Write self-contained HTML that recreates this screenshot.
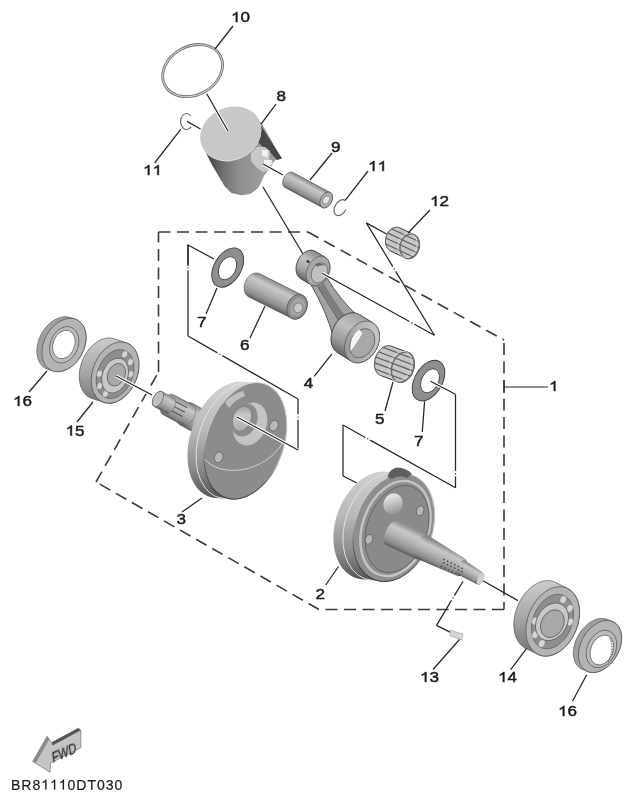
<!DOCTYPE html>
<html><head><meta charset="utf-8"><style>
html,body{margin:0;padding:0;background:#fff;}
svg{display:block;font-family:"Liberation Sans",sans-serif;}
text{will-change:transform;}
</style></head><body>
<svg width="634" height="800" viewBox="0 0 634 800">
<defs><linearGradient id="cylV" x1="0" y1="0" x2="0.25" y2="1"><stop offset="0" stop-color="#8a8a8a"/><stop offset="0.25" stop-color="#c4c4c4"/><stop offset="0.6" stop-color="#aaaaaa"/><stop offset="1" stop-color="#6a6a6a"/></linearGradient><linearGradient id="pinG" x1="0" y1="0" x2="0.3" y2="1"><stop offset="0" stop-color="#7a7a7a"/><stop offset="0.3" stop-color="#b8b8b8"/><stop offset="0.7" stop-color="#a0a0a0"/><stop offset="1" stop-color="#666"/></linearGradient><linearGradient id="pistB" x1="203" y1="0" x2="262" y2="0" gradientUnits="userSpaceOnUse"><stop offset="0" stop-color="#3a3a3a"/><stop offset="0.15" stop-color="#4e4e4e"/><stop offset="0.35" stop-color="#727272"/><stop offset="0.6" stop-color="#8e8e8e"/><stop offset="1" stop-color="#9c9c9c"/></linearGradient><linearGradient id="pg1" x1="311.04" y1="182.52" x2="302.96" y2="197.48" gradientUnits="userSpaceOnUse"><stop offset="0" stop-color="#8a8a8a"/><stop offset="0.25" stop-color="#c8c8c8"/><stop offset="0.55" stop-color="#b0b0b0"/><stop offset="0.85" stop-color="#8a8a8a"/><stop offset="1" stop-color="#5a5a5a"/></linearGradient><clipPath id="nbclip1"><path d="M385.47,240.89 L385.5,240.25 L385.55,239.61 L385.63,238.96 L385.74,238.32 L385.87,237.68 L386.02,237.04 L386.21,236.41 L386.41,235.79 L386.64,235.18 L386.9,234.58 L387.17,234 L387.47,233.43 L387.79,232.88 L388.13,232.34 L388.49,231.83 L388.87,231.33 L389.27,230.86 L389.68,230.41 L390.1,229.99 L390.55,229.59 L391,229.22 L391.46,228.88 L391.94,228.57 L392.42,228.29 L392.92,228.03 L393.41,227.81 L393.92,227.63 L394.42,227.47 L394.93,227.35 L395.44,227.26 L395.95,227.2 L396.46,227.18 L396.96,227.19 L397.46,227.24 L397.95,227.31 L398.44,227.43 L398.91,227.57 L399.38,227.75 L399.83,227.96 L414.33,234.76 L414.77,235 L415.2,235.27 L415.61,235.58 L416.01,235.91 L416.39,236.27 L416.75,236.66 L417.09,237.07 L417.41,237.51 L417.71,237.98 L417.99,238.46 L418.24,238.97 L418.48,239.5 L418.68,240.05 L418.87,240.61 L419.03,241.19 L419.16,241.79 L419.26,242.39 L419.34,243.01 L419.4,243.64 L419.43,244.27 L419.43,244.91 L419.4,245.55 L419.35,246.19 L419.27,246.84 L419.16,247.48 L419.03,248.12 L418.88,248.76 L418.69,249.39 L418.49,250.01 L418.26,250.62 L418,251.22 L417.73,251.8 L417.43,252.37 L417.11,252.92 L416.77,253.46 L416.41,253.97 L416.03,254.47 L415.63,254.94 L415.22,255.39 L414.8,255.81 L414.35,256.21 L413.9,256.58 L413.44,256.92 L412.96,257.23 L412.48,257.51 L411.98,257.77 L411.49,257.99 L410.98,258.17 L410.48,258.33 L409.97,258.45 L409.46,258.54 L408.95,258.6 L408.44,258.62 L407.94,258.61 L407.44,258.56 L406.95,258.49 L406.46,258.37 L405.99,258.23 L405.52,258.05 L405.07,257.84 L390.57,251.04 L390.13,250.8 L389.7,250.53 L389.29,250.22 L388.89,249.89 L388.51,249.53 L388.15,249.14 L387.81,248.73 L387.49,248.29 L387.19,247.82 L386.91,247.34 L386.66,246.83 L386.42,246.3 L386.22,245.75 L386.03,245.19 L385.87,244.61 L385.74,244.01 L385.64,243.41 L385.56,242.79 L385.5,242.16 L385.47,241.53 Z"/></clipPath><linearGradient id="pg2" x1="281.61" y1="284.5" x2="270.39" y2="307.5" gradientUnits="userSpaceOnUse"><stop offset="0" stop-color="#8a8a8a"/><stop offset="0.25" stop-color="#c8c8c8"/><stop offset="0.55" stop-color="#b0b0b0"/><stop offset="0.85" stop-color="#8a8a8a"/><stop offset="1" stop-color="#5a5a5a"/></linearGradient><linearGradient id="pg3" x1="319.51" y1="253.87" x2="304.49" y2="282.13" gradientUnits="userSpaceOnUse"><stop offset="0" stop-color="#8a8a8a"/><stop offset="0.35" stop-color="#c4c4c4"/><stop offset="0.7" stop-color="#a0a0a0"/><stop offset="1" stop-color="#5a5a5a"/></linearGradient><linearGradient id="pg4" x1="366.27" y1="316.81" x2="343.73" y2="359.19" gradientUnits="userSpaceOnUse"><stop offset="0" stop-color="#a0a0a0"/><stop offset="0.35" stop-color="#c0c0c0"/><stop offset="0.7" stop-color="#9a9a9a"/><stop offset="1" stop-color="#5a5a5a"/></linearGradient><linearGradient id="befc" x1="1" y1="0" x2="0" y2="1"><stop offset="0" stop-color="#d0d0d0"/><stop offset="0.5" stop-color="#b4b4b4"/><stop offset="1" stop-color="#8a8a8a"/></linearGradient><clipPath id="nbclip2"><path d="M374.47,364.28 L374.49,363.51 L374.53,362.72 L374.61,361.94 L374.72,361.14 L374.86,360.35 L375.03,359.56 L375.23,358.77 L375.46,357.99 L375.71,357.21 L376,356.45 L376.31,355.69 L376.65,354.96 L377.01,354.23 L377.4,353.53 L377.81,352.84 L378.25,352.18 L378.7,351.54 L379.18,350.92 L379.67,350.34 L380.18,349.78 L380.7,349.25 L381.24,348.75 L381.8,348.29 L382.36,347.86 L382.93,347.46 L383.52,347.11 L384.1,346.79 L384.7,346.51 L385.29,346.26 L385.89,346.06 L386.49,345.9 L387.09,345.78 L387.68,345.7 L388.27,345.66 L388.85,345.66 L389.42,345.71 L389.99,345.79 L390.54,345.92 L391.08,346.09 L408.08,352.49 L408.61,352.69 L409.12,352.94 L409.61,353.23 L410.09,353.55 L410.54,353.92 L410.98,354.31 L411.39,354.75 L411.78,355.22 L412.14,355.72 L412.48,356.25 L412.79,356.81 L413.08,357.4 L413.34,358.02 L413.57,358.67 L413.77,359.33 L413.94,360.02 L414.08,360.73 L414.19,361.45 L414.27,362.19 L414.31,362.95 L414.33,363.72 L414.31,364.49 L414.27,365.28 L414.19,366.06 L414.08,366.86 L413.94,367.65 L413.77,368.44 L413.57,369.23 L413.34,370.01 L413.09,370.79 L412.8,371.55 L412.49,372.31 L412.15,373.04 L411.79,373.77 L411.4,374.47 L410.99,375.16 L410.55,375.82 L410.1,376.46 L409.62,377.08 L409.13,377.66 L408.62,378.22 L408.1,378.75 L407.56,379.25 L407,379.71 L406.44,380.14 L405.87,380.54 L405.28,380.89 L404.7,381.21 L404.1,381.49 L403.51,381.74 L402.91,381.94 L402.31,382.1 L401.71,382.22 L401.12,382.3 L400.53,382.34 L399.95,382.34 L399.38,382.29 L398.81,382.21 L398.26,382.08 L397.72,381.91 L380.72,375.51 L380.19,375.31 L379.68,375.06 L379.19,374.77 L378.71,374.45 L378.26,374.08 L377.82,373.69 L377.41,373.25 L377.02,372.78 L376.66,372.28 L376.32,371.75 L376.01,371.19 L375.72,370.6 L375.46,369.98 L375.23,369.33 L375.03,368.67 L374.86,367.98 L374.72,367.27 L374.61,366.55 L374.53,365.81 L374.49,365.05 Z"/></clipPath><linearGradient id="rim15" x1="0" y1="335" x2="0" y2="408" gradientUnits="userSpaceOnUse"><stop offset="0" stop-color="#cfcfcf"/><stop offset="0.5" stop-color="#a8a8a8"/><stop offset="1" stop-color="#6e6e6e"/></linearGradient><linearGradient id="pg5" x1="205.87" y1="410.96" x2="194.13" y2="433.04" gradientUnits="userSpaceOnUse"><stop offset="0" stop-color="#8a8a8a"/><stop offset="0.25" stop-color="#c8c8c8"/><stop offset="0.55" stop-color="#b0b0b0"/><stop offset="0.85" stop-color="#8a8a8a"/><stop offset="1" stop-color="#5a5a5a"/></linearGradient><linearGradient id="pg6" x1="183.31" y1="400.02" x2="172.69" y2="419.98" gradientUnits="userSpaceOnUse"><stop offset="0" stop-color="#8a8a8a"/><stop offset="0.25" stop-color="#c8c8c8"/><stop offset="0.55" stop-color="#b0b0b0"/><stop offset="0.85" stop-color="#8a8a8a"/><stop offset="1" stop-color="#5a5a5a"/></linearGradient><linearGradient id="pg7" x1="167.94" y1="394.58" x2="160.06" y2="409.42" gradientUnits="userSpaceOnUse"><stop offset="0" stop-color="#8a8a8a"/><stop offset="0.25" stop-color="#c8c8c8"/><stop offset="0.55" stop-color="#b0b0b0"/><stop offset="0.85" stop-color="#8a8a8a"/><stop offset="1" stop-color="#5a5a5a"/></linearGradient><linearGradient id="rim3" x1="0" y1="383" x2="0" y2="503" gradientUnits="userSpaceOnUse"><stop offset="0" stop-color="#d2d2d2"/><stop offset="0.4" stop-color="#b8b8b8"/><stop offset="0.72" stop-color="#8a8a8a"/><stop offset="1" stop-color="#4a4a4a"/></linearGradient><linearGradient id="fe3" x1="0" y1="383" x2="0" y2="503" gradientUnits="userSpaceOnUse"><stop offset="0" stop-color="#d8d8d8"/><stop offset="0.55" stop-color="#c0c0c0"/><stop offset="0.8" stop-color="#5a5a5a"/><stop offset="1" stop-color="#3a3a3a"/></linearGradient><linearGradient id="bore3" x1="0" y1="0" x2="0.3" y2="1"><stop offset="0" stop-color="#909090"/><stop offset="0.45" stop-color="#c8c8c8"/><stop offset="1" stop-color="#b0b0b0"/></linearGradient><linearGradient id="rim2" x1="0" y1="470" x2="0" y2="585" gradientUnits="userSpaceOnUse"><stop offset="0" stop-color="#d2d2d2"/><stop offset="0.4" stop-color="#b8b8b8"/><stop offset="0.72" stop-color="#8a8a8a"/><stop offset="1" stop-color="#4a4a4a"/></linearGradient><linearGradient id="fe2" x1="0" y1="471" x2="0" y2="584" gradientUnits="userSpaceOnUse"><stop offset="0" stop-color="#d8d8d8"/><stop offset="0.55" stop-color="#c0c0c0"/><stop offset="0.8" stop-color="#5a5a5a"/><stop offset="1" stop-color="#3a3a3a"/></linearGradient><linearGradient id="boss2" x1="0.3" y1="0.2" x2="0.8" y2="1"><stop offset="0" stop-color="#e0e0e0"/><stop offset="1" stop-color="#8a8a8a"/></linearGradient><linearGradient id="pg8" x1="412.71" y1="527.76" x2="401.29" y2="552.24" gradientUnits="userSpaceOnUse"><stop offset="0" stop-color="#8a8a8a"/><stop offset="0.25" stop-color="#c8c8c8"/><stop offset="0.55" stop-color="#b0b0b0"/><stop offset="0.85" stop-color="#8a8a8a"/><stop offset="1" stop-color="#5a5a5a"/></linearGradient><linearGradient id="pg9" x1="446.04" y1="546.66" x2="435.96" y2="567.34" gradientUnits="userSpaceOnUse"><stop offset="0" stop-color="#8a8a8a"/><stop offset="0.25" stop-color="#c8c8c8"/><stop offset="0.55" stop-color="#b0b0b0"/><stop offset="0.85" stop-color="#8a8a8a"/><stop offset="1" stop-color="#5a5a5a"/></linearGradient><linearGradient id="pg10" x1="474.52" y1="566.38" x2="467.48" y2="579.62" gradientUnits="userSpaceOnUse"><stop offset="0" stop-color="#8a8a8a"/><stop offset="0.25" stop-color="#c8c8c8"/><stop offset="0.55" stop-color="#b0b0b0"/><stop offset="0.85" stop-color="#8a8a8a"/><stop offset="1" stop-color="#5a5a5a"/></linearGradient><linearGradient id="rim14" x1="0" y1="578" x2="0" y2="656" gradientUnits="userSpaceOnUse"><stop offset="0" stop-color="#cfcfcf"/><stop offset="0.5" stop-color="#a8a8a8"/><stop offset="1" stop-color="#6e6e6e"/></linearGradient></defs>
<rect width="634" height="800" fill="#fff"/>
<polyline points="158.5,232 308,232" fill="none" stroke="#3a3a3a" stroke-width="1.6" stroke-dasharray="12 6.5"/>
<polyline points="308,232 504,340" fill="none" stroke="#3a3a3a" stroke-width="1.6" stroke-dasharray="12 6.5"/>
<polyline points="504,343 504,609.5" fill="none" stroke="#3a3a3a" stroke-width="1.6" stroke-dasharray="12 6.5"/>
<polyline points="504,609.5 319,609.5" fill="none" stroke="#3a3a3a" stroke-width="1.6" stroke-dasharray="12 6.5"/>
<polyline points="319,609.5 96,482" fill="none" stroke="#3a3a3a" stroke-width="1.6" stroke-dasharray="12 6.5"/>
<polyline points="96,482 158.5,372" fill="none" stroke="#3a3a3a" stroke-width="1.6" stroke-dasharray="12 6.5"/>
<polyline points="158.5,372 158.5,232" fill="none" stroke="#3a3a3a" stroke-width="1.6" stroke-dasharray="12 6.5"/>
<polyline points="504,381 504,393" fill="none" stroke="#3a3a3a" stroke-width="1.6"/>
<polyline points="504,387 548,387" fill="none" stroke="#262626" stroke-width="1.0"/>
<path d="M0.372,0 L0.284,0 L0.284,-0.560 Q0.252,-0.530 0.200,-0.500 Q0.148,-0.469 0.107,-0.454 L0.107,-0.539 Q0.180,-0.573 0.235,-0.622 Q0.290,-0.670 0.313,-0.716 L0.372,-0.716 Z" transform="translate(549,391) scale(17.08,14)" fill="#1a1a1a" stroke="#1a1a1a" stroke-width="0.03"/>
<ellipse cx="192.6" cy="70.6" rx="31.4" ry="24.3" transform="rotate(-28.3 192.6 70.6)" fill="none" stroke="#707070" stroke-width="2.8"/>
<ellipse cx="192.6" cy="70.6" rx="31.4" ry="24.3" transform="rotate(-28.3 192.6 70.6)" fill="none" stroke="#d4d4d4" stroke-width="1.0"/>
<polyline points="233,26 215,49" fill="none" stroke="#262626" stroke-width="1.25"/>
<path d="M0.372,0 L0.284,0 L0.284,-0.560 Q0.252,-0.530 0.200,-0.500 Q0.148,-0.469 0.107,-0.454 L0.107,-0.539 Q0.180,-0.573 0.235,-0.622 Q0.290,-0.670 0.313,-0.716 L0.372,-0.716 Z" transform="translate(231,22) scale(17.08,14)" fill="#1a1a1a" stroke="#1a1a1a" stroke-width="0.03"/>
<text transform="translate(240.5,22) scale(1.22,1)" font-size="14" font-weight="normal" fill="#1a1a1a" stroke="#1a1a1a" stroke-width="0.45">0</text>
<path d="M201.5,144 L212,165 L224.8,186.4 L231.4,193 L241.4,195.2 L250.2,194.1 L256.3,189.7 L259.4,186 L264.1,175.7 L268.9,169.4 L275.2,159.9 L281.5,158.4 L261,122 Z" fill="url(#pistB)"/>
<path d="M258,121 L282,158.4 L277,160 L270,152 L262,146 L256,140 Z" fill="#484848"/>
<path d="M251,153 L257,147 L265,147 L270,151 L269,159 L273,162 L271,170 L263,172 L257,168 L251,161 Z" fill="#c8c8c8"/>
<path d="M262,150 L268,150 L268,157 L262,156 Z" fill="#f0f0f0"/>
<path d="M264,160 L272,160 L271,165 L264,164 Z" fill="#f4f4f4"/>
<ellipse cx="230.8" cy="134.4" rx="31.4" ry="26" transform="rotate(-24.6 230.8 134.4)" fill="#e0e0e0"/>
<ellipse cx="230.8" cy="133.4" rx="31.4" ry="26" transform="rotate(-24.6 230.8 133.4)" fill="#c8c8c8"/>
<polyline points="261,124 276,104" fill="none" stroke="#262626" stroke-width="1.25"/>
<polyline points="206.7,93.7 228,131" fill="none" stroke="#fff" stroke-width="3.45"/>
<polyline points="206.7,93.7 228,131" fill="none" stroke="#262626" stroke-width="1.25"/>
<text transform="translate(276.5,101.2) scale(1.22,1)" font-size="14" font-weight="normal" fill="#1a1a1a" stroke="#1a1a1a" stroke-width="0.45">8</text>
<path d="M190.8,115.8 A6,8 0 1 0 191.1,126.8" fill="none" stroke="#666" stroke-width="1.2"/>
<polyline points="187,121.4 200.5,129" fill="none" stroke="#262626" stroke-width="1.25"/>
<polyline points="180.7,129.3 154.6,163" fill="none" stroke="#262626" stroke-width="1.25"/>
<path d="M0.372,0 L0.284,0 L0.284,-0.560 Q0.252,-0.530 0.200,-0.500 Q0.148,-0.469 0.107,-0.454 L0.107,-0.539 Q0.180,-0.573 0.235,-0.622 Q0.290,-0.670 0.313,-0.716 L0.372,-0.716 Z" transform="translate(143,175) scale(17.08,14)" fill="#1a1a1a" stroke="#1a1a1a" stroke-width="0.03"/>
<path d="M0.372,0 L0.284,0 L0.284,-0.560 Q0.252,-0.530 0.200,-0.500 Q0.148,-0.469 0.107,-0.454 L0.107,-0.539 Q0.180,-0.573 0.235,-0.622 Q0.290,-0.670 0.313,-0.716 L0.372,-0.716 Z" transform="translate(152.5,175) scale(17.08,14)" fill="#1a1a1a" stroke="#1a1a1a" stroke-width="0.03"/>
<path d="M282.68,182.66 L282.69,182.27 L282.72,181.87 L282.77,181.46 L282.83,181.05 L282.92,180.64 L283.01,180.23 L283.13,179.81 L283.26,179.4 L283.41,178.98 L283.57,178.57 L283.74,178.17 L283.94,177.77 L284.14,177.37 L284.36,176.98 L284.59,176.61 L284.83,176.23 L285.09,175.88 L285.35,175.53 L285.63,175.19 L285.91,174.87 L286.2,174.56 L286.51,174.26 L286.81,173.99 L287.13,173.72 L287.44,173.48 L287.77,173.25 L288.09,173.04 L288.42,172.85 L288.75,172.69 L289.08,172.54 L289.41,172.41 L289.74,172.3 L290.07,172.21 L290.4,172.14 L290.72,172.1 L291.03,172.08 L291.34,172.08 L291.65,172.1 L291.94,172.14 L292.23,172.2 L292.51,172.29 L292.78,172.4 L293.04,172.52 L330.24,192.52 L330.49,192.67 L330.73,192.84 L330.95,193.03 L331.16,193.23 L331.36,193.46 L331.55,193.7 L331.72,193.96 L331.87,194.24 L332.01,194.53 L332.13,194.84 L332.24,195.16 L332.33,195.5 L332.4,195.84 L332.46,196.2 L332.5,196.57 L332.52,196.95 L332.52,197.34 L332.51,197.73 L332.48,198.13 L332.43,198.54 L332.37,198.95 L332.28,199.36 L332.19,199.77 L332.07,200.19 L331.94,200.6 L331.79,201.02 L331.63,201.43 L331.46,201.83 L331.26,202.23 L331.06,202.63 L330.84,203.02 L330.61,203.39 L330.37,203.77 L330.11,204.12 L329.85,204.47 L329.57,204.81 L329.29,205.13 L329,205.44 L328.69,205.74 L328.39,206.01 L328.07,206.28 L327.76,206.52 L327.43,206.75 L327.11,206.96 L326.78,207.15 L326.45,207.31 L326.12,207.46 L325.79,207.59 L325.46,207.7 L325.13,207.79 L324.8,207.86 L324.48,207.9 L324.17,207.92 L323.86,207.92 L323.55,207.9 L323.26,207.86 L322.97,207.8 L322.69,207.71 L322.42,207.6 L322.16,207.48 L284.96,187.48 L284.71,187.33 L284.47,187.16 L284.25,186.97 L284.04,186.77 L283.84,186.54 L283.65,186.3 L283.48,186.04 L283.33,185.76 L283.19,185.47 L283.07,185.16 L282.96,184.84 L282.87,184.5 L282.8,184.16 L282.74,183.8 L282.7,183.43 L282.68,183.05 Z" fill="url(#pg1)" stroke="#444" stroke-width="0.6"/>
<ellipse cx="326.2" cy="200" rx="5.53" ry="8.5" transform="rotate(28.4 326.2 200)" fill="#b0b0b0" stroke="#444" stroke-width="0.6"/>
<ellipse cx="326.2" cy="200" rx="3" ry="4.5" transform="rotate(28.4 326.2 200)" fill="#e4e4e4" stroke="#666" stroke-width="0.6"/>
<polyline points="263,164 283,175" fill="none" stroke="#fff" stroke-width="3.45"/>
<polyline points="263,164 283,175" fill="none" stroke="#262626" stroke-width="1.25"/>
<polyline points="332,153 310,180" fill="none" stroke="#262626" stroke-width="1.25"/>
<text transform="translate(331,152) scale(1.22,1)" font-size="14" font-weight="normal" fill="#1a1a1a" stroke="#1a1a1a" stroke-width="0.45">9</text>
<path d="M345.2,200.4 A5.6,8.6 30 1 0 345.9,209.4" fill="none" stroke="#666" stroke-width="1.2"/>
<polyline points="345.2,200.4 368,171" fill="none" stroke="#262626" stroke-width="1.25"/>
<path d="M0.372,0 L0.284,0 L0.284,-0.560 Q0.252,-0.530 0.200,-0.500 Q0.148,-0.469 0.107,-0.454 L0.107,-0.539 Q0.180,-0.573 0.235,-0.622 Q0.290,-0.670 0.313,-0.716 L0.372,-0.716 Z" transform="translate(368,171) scale(17.08,14)" fill="#1a1a1a" stroke="#1a1a1a" stroke-width="0.03"/>
<path d="M0.372,0 L0.284,0 L0.284,-0.560 Q0.252,-0.530 0.200,-0.500 Q0.148,-0.469 0.107,-0.454 L0.107,-0.539 Q0.180,-0.573 0.235,-0.622 Q0.290,-0.670 0.313,-0.716 L0.372,-0.716 Z" transform="translate(377.5,171) scale(17.08,14)" fill="#1a1a1a" stroke="#1a1a1a" stroke-width="0.03"/>
<polyline points="263,187 303,254" fill="none" stroke="#262626" stroke-width="1.25"/>
<path d="M385.47,240.89 L385.5,240.25 L385.55,239.61 L385.63,238.96 L385.74,238.32 L385.87,237.68 L386.02,237.04 L386.21,236.41 L386.41,235.79 L386.64,235.18 L386.9,234.58 L387.17,234 L387.47,233.43 L387.79,232.88 L388.13,232.34 L388.49,231.83 L388.87,231.33 L389.27,230.86 L389.68,230.41 L390.1,229.99 L390.55,229.59 L391,229.22 L391.46,228.88 L391.94,228.57 L392.42,228.29 L392.92,228.03 L393.41,227.81 L393.92,227.63 L394.42,227.47 L394.93,227.35 L395.44,227.26 L395.95,227.2 L396.46,227.18 L396.96,227.19 L397.46,227.24 L397.95,227.31 L398.44,227.43 L398.91,227.57 L399.38,227.75 L399.83,227.96 L414.33,234.76 L414.77,235 L415.2,235.27 L415.61,235.58 L416.01,235.91 L416.39,236.27 L416.75,236.66 L417.09,237.07 L417.41,237.51 L417.71,237.98 L417.99,238.46 L418.24,238.97 L418.48,239.5 L418.68,240.05 L418.87,240.61 L419.03,241.19 L419.16,241.79 L419.26,242.39 L419.34,243.01 L419.4,243.64 L419.43,244.27 L419.43,244.91 L419.4,245.55 L419.35,246.19 L419.27,246.84 L419.16,247.48 L419.03,248.12 L418.88,248.76 L418.69,249.39 L418.49,250.01 L418.26,250.62 L418,251.22 L417.73,251.8 L417.43,252.37 L417.11,252.92 L416.77,253.46 L416.41,253.97 L416.03,254.47 L415.63,254.94 L415.22,255.39 L414.8,255.81 L414.35,256.21 L413.9,256.58 L413.44,256.92 L412.96,257.23 L412.48,257.51 L411.98,257.77 L411.49,257.99 L410.98,258.17 L410.48,258.33 L409.97,258.45 L409.46,258.54 L408.95,258.6 L408.44,258.62 L407.94,258.61 L407.44,258.56 L406.95,258.49 L406.46,258.37 L405.99,258.23 L405.52,258.05 L405.07,257.84 L390.57,251.04 L390.13,250.8 L389.7,250.53 L389.29,250.22 L388.89,249.89 L388.51,249.53 L388.15,249.14 L387.81,248.73 L387.49,248.29 L387.19,247.82 L386.91,247.34 L386.66,246.83 L386.42,246.3 L386.22,245.75 L386.03,245.19 L385.87,244.61 L385.74,244.01 L385.64,243.41 L385.56,242.79 L385.5,242.16 L385.47,241.53 Z" fill="#c6c6c6" stroke="#3a3a3a" stroke-width="1"/>
<g clip-path="url(#nbclip1)">
<line x1="418.66" y1="265.46" x2="374.74" y2="244.86" stroke="#606060" stroke-width="1.2"/>
<line x1="420.96" y1="260.56" x2="377.04" y2="239.96" stroke="#606060" stroke-width="1.2"/>
<line x1="423.26" y1="255.65" x2="379.34" y2="235.05" stroke="#606060" stroke-width="1.2"/>
<line x1="425.56" y1="250.75" x2="381.64" y2="230.15" stroke="#606060" stroke-width="1.2"/>
<line x1="427.86" y1="245.84" x2="383.94" y2="225.24" stroke="#606060" stroke-width="1.2"/>
<line x1="430.16" y1="240.94" x2="386.24" y2="220.34" stroke="#606060" stroke-width="1.2"/>
</g>
<ellipse cx="409.7" cy="246.3" rx="9.5" ry="12.5" transform="rotate(15 409.7 246.3)" fill="none" stroke="#6a6a6a" stroke-width="1.4"/>
<ellipse cx="407.52" cy="245.28" rx="9.5" ry="12.5" transform="rotate(15 407.52 245.28)" fill="none" stroke="#e0e0e0" stroke-width="0.6"/>
<polyline points="408,233 430,210" fill="none" stroke="#262626" stroke-width="1.25"/>
<path d="M0.372,0 L0.284,0 L0.284,-0.560 Q0.252,-0.530 0.200,-0.500 Q0.148,-0.469 0.107,-0.454 L0.107,-0.539 Q0.180,-0.573 0.235,-0.622 Q0.290,-0.670 0.313,-0.716 L0.372,-0.716 Z" transform="translate(430,206) scale(17.08,14)" fill="#1a1a1a" stroke="#1a1a1a" stroke-width="0.03"/>
<text transform="translate(439.5,206) scale(1.22,1)" font-size="14" font-weight="normal" fill="#1a1a1a" stroke="#1a1a1a" stroke-width="0.45">2</text>
<polyline points="386.5,234 366.3,222.9" fill="none" stroke="#262626" stroke-width="1.25"/>
<ellipse cx="227.7" cy="267.6" rx="13.5" ry="21.4" transform="rotate(30.8 227.7 267.6)" fill="#8e8e8e" stroke="#3a3a3a" stroke-width="0.9"/>
<ellipse cx="227.5" cy="268.2" rx="8.2" ry="12.3" transform="rotate(27 227.5 268.2)" fill="#fff" stroke="#3a3a3a" stroke-width="0.8"/>
<polyline points="214,259 188,245 188,266" fill="none" stroke="#262626" stroke-width="1.25"/>
<line x1="188" y1="245" x2="188" y2="264.95" stroke="#262626" stroke-width="1.25" stroke-linecap="butt"/>
<line x1="188" y1="267.15" x2="188" y2="268.35" stroke="#262626" stroke-width="1.25" stroke-linecap="butt"/>
<line x1="188" y1="270.55" x2="188" y2="336" stroke="#262626" stroke-width="1.25" stroke-linecap="butt"/>
<line x1="188" y1="336" x2="217.47" y2="352.88" stroke="#262626" stroke-width="1.25" stroke-linecap="butt"/>
<line x1="219.38" y1="353.97" x2="220.42" y2="354.57" stroke="#262626" stroke-width="1.25" stroke-linecap="butt"/>
<line x1="222.33" y1="355.66" x2="298" y2="399" stroke="#262626" stroke-width="1.25" stroke-linecap="butt"/>
<line x1="298" y1="399" x2="298" y2="414.2" stroke="#262626" stroke-width="1.25" stroke-linecap="butt"/>
<line x1="298" y1="416.4" x2="298" y2="417.6" stroke="#262626" stroke-width="1.25" stroke-linecap="butt"/>
<line x1="298" y1="419.8" x2="298" y2="450" stroke="#262626" stroke-width="1.25" stroke-linecap="butt"/>
<polyline points="217,288 206,314" fill="none" stroke="#262626" stroke-width="1.25"/>
<text transform="translate(197,327) scale(1.22,1)" font-size="14" font-weight="normal" fill="#1a1a1a" stroke="#1a1a1a" stroke-width="0.45">7</text>
<path d="M244.14,288 L244.15,287.36 L244.19,286.72 L244.25,286.07 L244.34,285.43 L244.46,284.78 L244.6,284.13 L244.77,283.49 L244.97,282.85 L245.2,282.22 L245.45,281.6 L245.72,280.99 L246.02,280.39 L246.34,279.8 L246.68,279.23 L247.04,278.68 L247.43,278.14 L247.83,277.63 L248.25,277.14 L248.69,276.66 L249.15,276.22 L249.61,275.79 L250.1,275.4 L250.59,275.03 L251.09,274.69 L251.6,274.38 L252.12,274.1 L252.65,273.85 L253.18,273.63 L253.72,273.45 L254.25,273.3 L254.79,273.18 L255.33,273.09 L255.86,273.04 L256.39,273.02 L256.91,273.04 L257.43,273.08 L257.94,273.17 L258.44,273.28 L258.93,273.43 L259.4,273.62 L259.86,273.83 L302.56,295.23 L303.01,295.48 L303.44,295.76 L303.85,296.07 L304.25,296.4 L304.62,296.77 L304.98,297.16 L305.31,297.58 L305.62,298.03 L305.91,298.5 L306.17,298.99 L306.41,299.5 L306.62,300.04 L306.81,300.59 L306.97,301.16 L307.1,301.74 L307.21,302.34 L307.28,302.95 L307.33,303.57 L307.36,304.2 L307.35,304.84 L307.31,305.48 L307.25,306.13 L307.16,306.77 L307.04,307.42 L306.9,308.07 L306.73,308.71 L306.53,309.35 L306.3,309.98 L306.05,310.6 L305.78,311.21 L305.48,311.81 L305.16,312.4 L304.82,312.97 L304.46,313.52 L304.07,314.06 L303.67,314.57 L303.25,315.06 L302.81,315.54 L302.35,315.98 L301.89,316.41 L301.4,316.8 L300.91,317.17 L300.41,317.51 L299.9,317.82 L299.38,318.1 L298.85,318.35 L298.32,318.57 L297.78,318.75 L297.25,318.9 L296.71,319.02 L296.17,319.11 L295.64,319.16 L295.11,319.18 L294.59,319.16 L294.07,319.12 L293.56,319.03 L293.06,318.92 L292.57,318.77 L292.1,318.58 L291.64,318.37 L248.94,296.97 L248.49,296.72 L248.06,296.44 L247.65,296.13 L247.25,295.8 L246.88,295.43 L246.52,295.04 L246.19,294.62 L245.88,294.17 L245.59,293.7 L245.33,293.21 L245.09,292.7 L244.88,292.16 L244.69,291.61 L244.53,291.04 L244.4,290.46 L244.29,289.86 L244.22,289.25 L244.17,288.63 Z" fill="url(#pg2)" stroke="#444" stroke-width="0.6"/>
<ellipse cx="297.1" cy="306.8" rx="9.73" ry="12.8" transform="rotate(23 297.1 306.8)" fill="#8e8e8e" stroke="#444" stroke-width="0.6"/>
<ellipse cx="297.6" cy="307.2" rx="7" ry="9.5" transform="rotate(23 297.6 307.2)" fill="#a4a4a4"/>
<ellipse cx="298.2" cy="307.8" rx="4.5" ry="5" transform="rotate(23 298.2 307.8)" fill="#c8c8c8" stroke="#666" stroke-width="0.6"/>
<polyline points="265,306 250,338" fill="none" stroke="#262626" stroke-width="1.25"/>
<text transform="translate(240,350) scale(1.22,1)" font-size="14" font-weight="normal" fill="#1a1a1a" stroke="#1a1a1a" stroke-width="0.45">6</text>
<path d="M311,285 L326.5,277 Q340,300 358,316 L334,339 Q326,310 311,285 Z" fill="#a2a2a2" stroke="#3a3a3a" stroke-width="0.8"/>
<path d="M318,287 L324,283.5 Q335,303 347,318 L341,324 Q331,304 318,287 Z" fill="#7e7e7e"/>
<polyline points="318,287 341,324" fill="none" stroke="#444" stroke-width="0.8"/>
<path d="M296.07,268.75 L296.09,268 L296.14,267.24 L296.23,266.47 L296.35,265.69 L296.49,264.92 L296.67,264.15 L296.89,263.37 L297.13,262.61 L297.4,261.85 L297.7,261.09 L298.03,260.35 L298.39,259.62 L298.77,258.91 L299.18,258.21 L299.61,257.53 L300.07,256.87 L300.54,256.24 L301.04,255.63 L301.56,255.04 L302.09,254.48 L302.64,253.95 L303.21,253.45 L303.78,252.98 L304.37,252.55 L304.97,252.15 L305.58,251.78 L306.2,251.45 L306.82,251.16 L307.44,250.9 L308.06,250.69 L308.69,250.51 L309.31,250.37 L309.93,250.28 L310.54,250.22 L311.15,250.2 L311.75,250.23 L312.33,250.29 L312.91,250.4 L313.47,250.54 L314.02,250.73 L314.55,250.95 L315.06,251.21 L325.06,257.21 L325.56,257.52 L326.03,257.85 L326.48,258.23 L326.91,258.63 L327.31,259.08 L327.69,259.55 L328.04,260.06 L328.36,260.59 L328.66,261.16 L328.92,261.75 L329.16,262.37 L329.36,263.01 L329.54,263.67 L329.68,264.35 L329.79,265.05 L329.87,265.77 L329.92,266.5 L329.93,267.25 L329.91,268 L329.86,268.76 L329.77,269.53 L329.65,270.31 L329.51,271.08 L329.33,271.85 L329.11,272.63 L328.87,273.39 L328.6,274.15 L328.3,274.91 L327.97,275.65 L327.61,276.38 L327.23,277.09 L326.82,277.79 L326.39,278.47 L325.93,279.13 L325.46,279.76 L324.96,280.37 L324.44,280.96 L323.91,281.52 L323.36,282.05 L322.79,282.55 L322.22,283.02 L321.63,283.45 L321.03,283.85 L320.42,284.22 L319.8,284.55 L319.18,284.84 L318.56,285.1 L317.94,285.31 L317.31,285.49 L316.69,285.63 L316.07,285.72 L315.46,285.78 L314.85,285.8 L314.25,285.77 L313.67,285.71 L313.09,285.6 L312.53,285.46 L311.98,285.27 L311.45,285.05 L310.94,284.79 L300.94,278.79 L300.44,278.48 L299.97,278.15 L299.52,277.77 L299.09,277.37 L298.69,276.92 L298.31,276.45 L297.96,275.94 L297.64,275.41 L297.34,274.84 L297.08,274.25 L296.84,273.63 L296.64,272.99 L296.46,272.33 L296.32,271.65 L296.21,270.95 L296.13,270.23 L296.08,269.5 Z" fill="url(#pg3)" stroke="#333" stroke-width="0.9"/>
<ellipse cx="318" cy="271" rx="11" ry="15.5" transform="rotate(25 318 271)" fill="#a8a8a8" stroke="#555" stroke-width="0.6"/>
<ellipse cx="319.5" cy="272.9" rx="7.8" ry="10.5" transform="rotate(25 319.5 272.9)" fill="#c0c0c0" stroke="#555" stroke-width="0.6"/>
<path d="M315,264.5 Q320,261 326,266 Q323,264.5 317,266.5 Z" fill="#6a6a6a"/>
<ellipse cx="308" cy="261.5" rx="1.8" ry="1.3" transform="rotate(30 308 261.5)" fill="#3a3a3a"/>
<path d="M331,338.94 L331.03,337.88 L331.1,336.81 L331.22,335.73 L331.39,334.64 L331.61,333.55 L331.87,332.46 L332.18,331.37 L332.53,330.29 L332.93,329.22 L333.37,328.16 L333.85,327.12 L334.37,326.09 L334.93,325.08 L335.53,324.1 L336.16,323.14 L336.83,322.21 L337.53,321.32 L338.26,320.45 L339.01,319.63 L339.8,318.84 L340.6,318.09 L341.43,317.38 L342.28,316.72 L343.14,316.11 L344.02,315.54 L344.91,315.02 L345.81,314.55 L346.72,314.14 L347.64,313.78 L348.55,313.47 L349.47,313.22 L350.38,313.02 L351.29,312.88 L352.19,312.8 L353.08,312.77 L353.96,312.8 L354.82,312.89 L355.67,313.04 L356.49,313.24 L357.3,313.5 L358.07,313.81 L358.83,314.18 L359.55,314.59 L373.05,322.99 L373.75,323.47 L374.41,323.99 L375.04,324.56 L375.63,325.18 L376.19,325.85 L376.71,326.56 L377.18,327.31 L377.62,328.1 L378.01,328.93 L378.36,329.8 L378.66,330.7 L378.92,331.63 L379.13,332.59 L379.29,333.58 L379.41,334.58 L379.48,335.61 L379.5,336.66 L379.47,337.72 L379.4,338.79 L379.28,339.87 L379.11,340.96 L378.89,342.05 L378.63,343.14 L378.32,344.23 L377.97,345.31 L377.57,346.38 L377.13,347.44 L376.65,348.48 L376.13,349.51 L375.57,350.52 L374.97,351.5 L374.34,352.46 L373.67,353.39 L372.97,354.28 L372.24,355.15 L371.49,355.97 L370.7,356.76 L369.9,357.51 L369.07,358.22 L368.22,358.88 L367.36,359.49 L366.48,360.06 L365.59,360.58 L364.69,361.05 L363.78,361.46 L362.86,361.82 L361.95,362.13 L361.03,362.38 L360.12,362.58 L359.21,362.72 L358.31,362.8 L357.42,362.83 L356.54,362.8 L355.68,362.71 L354.83,362.56 L354.01,362.36 L353.2,362.1 L352.43,361.79 L351.67,361.42 L350.95,361.01 L337.45,352.61 L336.75,352.13 L336.09,351.61 L335.46,351.04 L334.87,350.42 L334.31,349.75 L333.79,349.04 L333.32,348.29 L332.88,347.5 L332.49,346.67 L332.14,345.8 L331.84,344.9 L331.58,343.97 L331.37,343.01 L331.21,342.02 L331.09,341.02 L331.02,339.99 Z" fill="url(#pg4)" stroke="#333" stroke-width="0.9"/>
<ellipse cx="362" cy="342" rx="16" ry="22" transform="rotate(28 362 342)" fill="url(#befc)" stroke="#555" stroke-width="0.6"/>
<ellipse cx="362.2" cy="343.2" rx="11.5" ry="15.5" transform="rotate(30 362.2 343.2)" fill="#a8a8a8" stroke="#555" stroke-width="0.7"/>
<path d="M359,329.5 Q349,337 350.5,351 Q355,346 362.5,333 Z" fill="#f4f4f4"/>
<polyline points="322,273.2 334,279.8" fill="none" stroke="#fff" stroke-width="3.4"/>
<line x1="366.3" y1="222.9" x2="392.77" y2="266.59" stroke="#262626" stroke-width="1.25" stroke-linecap="butt"/>
<line x1="393.91" y1="268.47" x2="394.53" y2="269.5" stroke="#262626" stroke-width="1.25" stroke-linecap="butt"/>
<line x1="395.67" y1="271.38" x2="434.4" y2="335.3" stroke="#262626" stroke-width="1.25" stroke-linecap="butt"/>
<line x1="434.4" y1="335.3" x2="414.37" y2="324.23" stroke="#262626" stroke-width="1.25" stroke-linecap="butt"/>
<line x1="412.45" y1="323.17" x2="411.39" y2="322.59" stroke="#262626" stroke-width="1.25" stroke-linecap="butt"/>
<line x1="409.47" y1="321.53" x2="322" y2="273.2" stroke="#262626" stroke-width="1.25" stroke-linecap="butt"/>
<polyline points="331.9,353.8 314.2,376.3" fill="none" stroke="#262626" stroke-width="1.25"/>
<text transform="translate(303.8,387.8) scale(1.22,1)" font-size="14" font-weight="normal" fill="#1a1a1a" stroke="#1a1a1a" stroke-width="0.45">4</text>
<path d="M374.47,364.28 L374.49,363.51 L374.53,362.72 L374.61,361.94 L374.72,361.14 L374.86,360.35 L375.03,359.56 L375.23,358.77 L375.46,357.99 L375.71,357.21 L376,356.45 L376.31,355.69 L376.65,354.96 L377.01,354.23 L377.4,353.53 L377.81,352.84 L378.25,352.18 L378.7,351.54 L379.18,350.92 L379.67,350.34 L380.18,349.78 L380.7,349.25 L381.24,348.75 L381.8,348.29 L382.36,347.86 L382.93,347.46 L383.52,347.11 L384.1,346.79 L384.7,346.51 L385.29,346.26 L385.89,346.06 L386.49,345.9 L387.09,345.78 L387.68,345.7 L388.27,345.66 L388.85,345.66 L389.42,345.71 L389.99,345.79 L390.54,345.92 L391.08,346.09 L408.08,352.49 L408.61,352.69 L409.12,352.94 L409.61,353.23 L410.09,353.55 L410.54,353.92 L410.98,354.31 L411.39,354.75 L411.78,355.22 L412.14,355.72 L412.48,356.25 L412.79,356.81 L413.08,357.4 L413.34,358.02 L413.57,358.67 L413.77,359.33 L413.94,360.02 L414.08,360.73 L414.19,361.45 L414.27,362.19 L414.31,362.95 L414.33,363.72 L414.31,364.49 L414.27,365.28 L414.19,366.06 L414.08,366.86 L413.94,367.65 L413.77,368.44 L413.57,369.23 L413.34,370.01 L413.09,370.79 L412.8,371.55 L412.49,372.31 L412.15,373.04 L411.79,373.77 L411.4,374.47 L410.99,375.16 L410.55,375.82 L410.1,376.46 L409.62,377.08 L409.13,377.66 L408.62,378.22 L408.1,378.75 L407.56,379.25 L407,379.71 L406.44,380.14 L405.87,380.54 L405.28,380.89 L404.7,381.21 L404.1,381.49 L403.51,381.74 L402.91,381.94 L402.31,382.1 L401.71,382.22 L401.12,382.3 L400.53,382.34 L399.95,382.34 L399.38,382.29 L398.81,382.21 L398.26,382.08 L397.72,381.91 L380.72,375.51 L380.19,375.31 L379.68,375.06 L379.19,374.77 L378.71,374.45 L378.26,374.08 L377.82,373.69 L377.41,373.25 L377.02,372.78 L376.66,372.28 L376.32,371.75 L376.01,371.19 L375.72,370.6 L375.46,369.98 L375.23,369.33 L375.03,368.67 L374.86,367.98 L374.72,367.27 L374.61,366.55 L374.53,365.81 L374.49,365.05 Z" fill="#c6c6c6" stroke="#3a3a3a" stroke-width="1"/>
<g clip-path="url(#nbclip2)">
<line x1="415.76" y1="390.61" x2="360.8" y2="369.92" stroke="#606060" stroke-width="1.2"/>
<line x1="417.8" y1="385.19" x2="362.84" y2="364.5" stroke="#606060" stroke-width="1.2"/>
<line x1="419.84" y1="379.77" x2="364.88" y2="359.08" stroke="#606060" stroke-width="1.2"/>
<line x1="421.88" y1="374.35" x2="366.92" y2="353.65" stroke="#606060" stroke-width="1.2"/>
<line x1="423.92" y1="368.92" x2="368.96" y2="348.23" stroke="#606060" stroke-width="1.2"/>
<line x1="425.96" y1="363.5" x2="371" y2="342.81" stroke="#606060" stroke-width="1.2"/>
<line x1="428" y1="358.08" x2="373.04" y2="337.39" stroke="#606060" stroke-width="1.2"/>
</g>
<ellipse cx="402.9" cy="367.2" rx="10.8" ry="15.6" transform="rotate(19.4 402.9 367.2)" fill="none" stroke="#6a6a6a" stroke-width="1.4"/>
<ellipse cx="400.35" cy="366.24" rx="10.8" ry="15.6" transform="rotate(19.4 400.35 366.24)" fill="none" stroke="#e0e0e0" stroke-width="0.6"/>
<polyline points="393,382 385,411" fill="none" stroke="#262626" stroke-width="1.25"/>
<text transform="translate(375,424) scale(1.22,1)" font-size="14" font-weight="normal" fill="#1a1a1a" stroke="#1a1a1a" stroke-width="0.45">5</text>
<ellipse cx="428.5" cy="380.6" rx="13.8" ry="22.1" transform="rotate(30.4 428.5 380.6)" fill="#8e8e8e" stroke="#3a3a3a" stroke-width="0.9"/>
<ellipse cx="430" cy="380.8" rx="8.4" ry="12.8" transform="rotate(27.2 430 380.8)" fill="#fff" stroke="#3a3a3a" stroke-width="0.8"/>
<polyline points="430.5,381.3 455.5,394.3" fill="none" stroke="#fff" stroke-width="3.45"/>
<polyline points="430.5,381.3 455.5,394.3" fill="none" stroke="#262626" stroke-width="1.25"/>
<line x1="455.5" y1="394.3" x2="455.5" y2="470.89" stroke="#262626" stroke-width="1.25" stroke-linecap="butt"/>
<line x1="455.5" y1="473.09" x2="455.5" y2="474.29" stroke="#262626" stroke-width="1.25" stroke-linecap="butt"/>
<line x1="455.5" y1="476.49" x2="455.5" y2="487.7" stroke="#262626" stroke-width="1.25" stroke-linecap="butt"/>
<line x1="455.5" y1="487.7" x2="370.2" y2="440.16" stroke="#262626" stroke-width="1.25" stroke-linecap="butt"/>
<line x1="368.27" y1="439.09" x2="367.23" y2="438.5" stroke="#262626" stroke-width="1.25" stroke-linecap="butt"/>
<line x1="365.3" y1="437.43" x2="343" y2="425" stroke="#262626" stroke-width="1.25" stroke-linecap="butt"/>
<line x1="343" y1="425" x2="343" y2="476" stroke="#262626" stroke-width="1.25" stroke-linecap="butt"/>
<polyline points="343,476 357,483" fill="none" stroke="#262626" stroke-width="1.25"/>
<polyline points="424.6,401.4 422.3,432" fill="none" stroke="#262626" stroke-width="1.25"/>
<text transform="translate(414,446) scale(1.22,1)" font-size="14" font-weight="normal" fill="#1a1a1a" stroke="#1a1a1a" stroke-width="0.45">7</text>
<path d="M36.9,350.59 L36.95,349.23 L37.06,347.86 L37.23,346.48 L37.46,345.09 L37.75,343.69 L38.1,342.29 L38.5,340.9 L38.96,339.51 L39.48,338.14 L40.05,336.77 L40.67,335.43 L41.34,334.11 L42.06,332.82 L42.83,331.55 L43.64,330.32 L44.49,329.12 L45.38,327.96 L46.31,326.85 L47.28,325.78 L48.27,324.76 L49.3,323.79 L50.35,322.87 L51.43,322.02 L52.52,321.22 L53.64,320.48 L54.77,319.8 L55.91,319.19 L57.06,318.65 L58.21,318.17 L59.37,317.77 L60.52,317.43 L61.68,317.17 L62.82,316.97 L63.95,316.85 L65.08,316.81 L66.18,316.83 L67.26,316.93 L68.32,317.11 L69.36,317.35 L74.36,318.85 L75.37,319.17 L76.34,319.56 L77.29,320.01 L78.19,320.54 L79.06,321.13 L79.88,321.79 L80.67,322.51 L81.4,323.29 L82.09,324.14 L82.73,325.04 L83.32,325.99 L83.85,327 L84.34,328.05 L84.76,329.16 L85.13,330.3 L85.44,331.49 L85.69,332.71 L85.88,333.97 L86.01,335.26 L86.08,336.57 L86.1,337.91 L86.05,339.27 L85.94,340.64 L85.77,342.02 L85.54,343.41 L85.25,344.81 L84.9,346.21 L84.5,347.6 L84.04,348.99 L83.52,350.36 L82.95,351.73 L82.33,353.07 L81.66,354.39 L80.94,355.68 L80.17,356.95 L79.36,358.18 L78.51,359.38 L77.62,360.54 L76.69,361.65 L75.72,362.72 L74.73,363.74 L73.7,364.71 L72.65,365.63 L71.57,366.48 L70.48,367.28 L69.36,368.02 L68.23,368.7 L67.09,369.31 L65.94,369.85 L64.79,370.33 L63.63,370.73 L62.48,371.07 L61.32,371.33 L60.18,371.53 L59.05,371.65 L57.92,371.69 L56.82,371.67 L55.74,371.57 L54.68,371.39 L53.64,371.15 L48.64,369.65 L47.63,369.33 L46.66,368.94 L45.71,368.49 L44.81,367.96 L43.94,367.37 L43.12,366.71 L42.33,365.99 L41.6,365.21 L40.91,364.36 L40.27,363.46 L39.68,362.51 L39.15,361.5 L38.66,360.45 L38.24,359.34 L37.87,358.2 L37.56,357.01 L37.31,355.79 L37.12,354.53 L36.99,353.24 L36.92,351.93 Z" fill="#a0a0a0" stroke="#555" stroke-width="0.7"/>
<ellipse cx="64" cy="345" rx="20" ry="28.3" transform="rotate(28 64 345)" fill="#b4b4b4" stroke="#555" stroke-width="0.7"/>
<ellipse cx="64.2" cy="344.8" rx="13.8" ry="18.8" transform="rotate(22 64.2 344.8)" fill="#bcbcbc" stroke="#555" stroke-width="0.7"/>
<ellipse cx="63.9" cy="344.5" rx="10.8" ry="14.7" transform="rotate(20.7 63.9 344.5)" fill="#fff" stroke="#555" stroke-width="0.7"/>
<polyline points="47,371 29,392" fill="none" stroke="#262626" stroke-width="1.25"/>
<path d="M0.372,0 L0.284,0 L0.284,-0.560 Q0.252,-0.530 0.200,-0.500 Q0.148,-0.469 0.107,-0.454 L0.107,-0.539 Q0.180,-0.573 0.235,-0.622 Q0.290,-0.670 0.313,-0.716 L0.372,-0.716 Z" transform="translate(13,406) scale(17.08,14)" fill="#1a1a1a" stroke="#1a1a1a" stroke-width="0.03"/>
<text transform="translate(22.5,406) scale(1.22,1)" font-size="14" font-weight="normal" fill="#1a1a1a" stroke="#1a1a1a" stroke-width="0.45">6</text>
<path d="M79.23,375.98 L79.28,374.41 L79.4,372.83 L79.58,371.23 L79.82,369.63 L80.13,368.02 L80.5,366.42 L80.93,364.82 L81.43,363.23 L81.98,361.66 L82.59,360.1 L83.26,358.57 L83.98,357.07 L84.75,355.6 L85.58,354.16 L86.45,352.77 L87.37,351.41 L88.33,350.11 L89.33,348.85 L90.37,347.65 L91.44,346.51 L92.55,345.42 L93.68,344.4 L94.84,343.45 L96.03,342.57 L97.23,341.75 L98.45,341.01 L99.68,340.35 L100.92,339.76 L102.17,339.26 L103.42,338.83 L104.67,338.48 L105.91,338.22 L107.15,338.04 L108.37,337.95 L109.58,337.93 L110.78,338.01 L111.95,338.16 L113.1,338.4 L114.22,338.72 L126.22,342.72 L127.31,343.13 L128.36,343.61 L129.38,344.18 L130.37,344.82 L131.31,345.54 L132.2,346.33 L133.05,347.2 L133.85,348.13 L134.59,349.13 L135.29,350.2 L135.93,351.32 L136.51,352.51 L137.03,353.75 L137.49,355.04 L137.9,356.38 L138.23,357.77 L138.51,359.19 L138.72,360.66 L138.87,362.15 L138.95,363.67 L138.97,365.22 L138.92,366.79 L138.8,368.37 L138.62,369.97 L138.38,371.57 L138.07,373.18 L137.7,374.78 L137.27,376.38 L136.77,377.97 L136.22,379.54 L135.61,381.1 L134.94,382.63 L134.22,384.13 L133.45,385.6 L132.62,387.04 L131.75,388.43 L130.83,389.79 L129.87,391.09 L128.87,392.35 L127.83,393.55 L126.76,394.69 L125.65,395.78 L124.52,396.8 L123.36,397.75 L122.17,398.63 L120.97,399.45 L119.75,400.19 L118.52,400.85 L117.28,401.44 L116.03,401.94 L114.78,402.37 L113.53,402.72 L112.29,402.98 L111.05,403.16 L109.83,403.25 L108.62,403.27 L107.42,403.19 L106.25,403.04 L105.1,402.8 L103.98,402.48 L91.98,398.48 L90.89,398.07 L89.84,397.59 L88.82,397.02 L87.83,396.38 L86.89,395.66 L86,394.87 L85.15,394 L84.35,393.07 L83.61,392.07 L82.91,391 L82.27,389.88 L81.69,388.69 L81.17,387.45 L80.71,386.16 L80.3,384.82 L79.97,383.43 L79.69,382.01 L79.48,380.54 L79.33,379.05 L79.25,377.53 Z" fill="url(#rim15)" stroke="#555" stroke-width="0.7"/>
<ellipse cx="115.1" cy="372.6" rx="22.2" ry="31.9" transform="rotate(22.5 115.1 372.6)" fill="#b4b4b4" stroke="#555" stroke-width="0.7"/>
<ellipse cx="115.1" cy="374" rx="17.5" ry="25.5" transform="rotate(22.5 115.1 374)" fill="#8e8e8e" stroke="#555" stroke-width="0.6"/>
<ellipse cx="124.69" cy="354.25" rx="2.72" ry="3.52" transform="rotate(22.5 124.69 354.25)" fill="#d6d6d6" stroke="#7a7a7a" stroke-width="0.4"/>
<ellipse cx="130.46" cy="362.12" rx="2.72" ry="3.52" transform="rotate(22.5 130.46 362.12)" fill="#d6d6d6" stroke="#7a7a7a" stroke-width="0.4"/>
<ellipse cx="130.66" cy="374.28" rx="2.72" ry="3.52" transform="rotate(22.5 130.66 374.28)" fill="#d6d6d6" stroke="#7a7a7a" stroke-width="0.4"/>
<ellipse cx="105.51" cy="393.75" rx="2.72" ry="3.52" transform="rotate(22.5 105.51 393.75)" fill="#d6d6d6" stroke="#7a7a7a" stroke-width="0.4"/>
<ellipse cx="99.74" cy="385.88" rx="2.72" ry="3.52" transform="rotate(22.5 99.74 385.88)" fill="#d6d6d6" stroke="#7a7a7a" stroke-width="0.4"/>
<ellipse cx="99.54" cy="373.72" rx="2.72" ry="3.52" transform="rotate(22.5 99.54 373.72)" fill="#d6d6d6" stroke="#7a7a7a" stroke-width="0.4"/>
<ellipse cx="115.1" cy="375.6" rx="12.8" ry="18.1" transform="rotate(19.8 115.1 375.6)" fill="#c8c8c8" stroke="#555" stroke-width="0.7"/>
<ellipse cx="116.4" cy="374.7" rx="8.5" ry="11.8" transform="rotate(24.6 116.4 374.7)" fill="#a8a8a8" stroke="#555" stroke-width="0.7"/>
<polyline points="116,376 152,395" fill="none" stroke="#fff" stroke-width="3.45"/>
<polyline points="116,376 152,395" fill="none" stroke="#262626" stroke-width="1.25"/>
<polyline points="93,402 77,422" fill="none" stroke="#262626" stroke-width="1.25"/>
<path d="M0.372,0 L0.284,0 L0.284,-0.560 Q0.252,-0.530 0.200,-0.500 Q0.148,-0.469 0.107,-0.454 L0.107,-0.539 Q0.180,-0.573 0.235,-0.622 Q0.290,-0.670 0.313,-0.716 L0.372,-0.716 Z" transform="translate(65.5,435.5) scale(17.08,14)" fill="#1a1a1a" stroke="#1a1a1a" stroke-width="0.03"/>
<text transform="translate(75,435.5) scale(1.22,1)" font-size="14" font-weight="normal" fill="#1a1a1a" stroke="#1a1a1a" stroke-width="0.45">5</text>
<path d="M177.56,419.52 L177.56,418.99 L177.59,418.44 L177.64,417.88 L177.71,417.3 L177.81,416.72 L177.93,416.13 L178.07,415.54 L178.23,414.94 L178.41,414.34 L178.62,413.74 L178.84,413.14 L179.09,412.54 L179.35,411.94 L179.63,411.35 L179.93,410.77 L180.25,410.2 L180.58,409.64 L180.92,409.09 L181.28,408.55 L181.66,408.03 L182.04,407.52 L182.44,407.03 L182.84,406.56 L183.26,406.11 L183.68,405.69 L184.11,405.28 L184.54,404.9 L184.98,404.55 L185.42,404.22 L185.86,403.91 L186.3,403.64 L186.74,403.39 L187.18,403.17 L187.62,402.99 L188.05,402.83 L188.47,402.7 L188.89,402.6 L189.3,402.54 L189.71,402.51 L190.1,402.5 L190.48,402.53 L190.85,402.59 L191.2,402.69 L191.54,402.81 L191.87,402.96 L220.87,418.96 L221.18,419.15 L221.47,419.36 L221.75,419.6 L222,419.88 L222.24,420.17 L222.46,420.5 L222.65,420.85 L222.83,421.23 L222.98,421.63 L223.12,422.06 L223.23,422.5 L223.32,422.97 L223.38,423.45 L223.42,423.96 L223.44,424.48 L223.44,425.01 L223.41,425.56 L223.36,426.12 L223.29,426.7 L223.19,427.28 L223.07,427.87 L222.93,428.46 L222.77,429.06 L222.59,429.66 L222.38,430.26 L222.16,430.86 L221.91,431.46 L221.65,432.06 L221.37,432.65 L221.07,433.23 L220.75,433.8 L220.42,434.36 L220.08,434.91 L219.72,435.45 L219.34,435.97 L218.96,436.48 L218.56,436.97 L218.16,437.44 L217.74,437.89 L217.32,438.31 L216.89,438.72 L216.46,439.1 L216.02,439.45 L215.58,439.78 L215.14,440.09 L214.7,440.36 L214.26,440.61 L213.82,440.83 L213.38,441.01 L212.95,441.17 L212.53,441.3 L212.11,441.4 L211.7,441.46 L211.29,441.49 L210.9,441.5 L210.52,441.47 L210.15,441.41 L209.8,441.31 L209.46,441.19 L209.13,441.04 L180.13,425.04 L179.82,424.85 L179.53,424.64 L179.25,424.4 L179,424.12 L178.76,423.83 L178.54,423.5 L178.35,423.15 L178.17,422.77 L178.02,422.37 L177.88,421.94 L177.77,421.5 L177.68,421.03 L177.62,420.55 L177.58,420.04 Z" fill="url(#pg5)" stroke="#555" stroke-width="0.5"/>
<path d="M160.37,409.49 L160.37,409.01 L160.4,408.51 L160.44,408 L160.51,407.49 L160.6,406.96 L160.7,406.43 L160.83,405.89 L160.98,405.35 L161.14,404.81 L161.33,404.26 L161.53,403.72 L161.75,403.18 L161.99,402.64 L162.24,402.11 L162.51,401.58 L162.8,401.06 L163.1,400.56 L163.41,400.06 L163.74,399.57 L164.07,399.1 L164.42,398.64 L164.78,398.2 L165.14,397.78 L165.52,397.37 L165.9,396.98 L166.29,396.62 L166.68,396.27 L167.07,395.95 L167.47,395.66 L167.87,395.38 L168.27,395.13 L168.67,394.91 L169.07,394.71 L169.46,394.54 L169.85,394.4 L170.24,394.29 L170.61,394.2 L170.99,394.14 L171.35,394.11 L171.7,394.11 L172.05,394.13 L172.38,394.19 L172.7,394.27 L173.01,394.38 L173.31,394.52 L193.31,405.22 L193.58,405.39 L193.85,405.58 L194.1,405.8 L194.33,406.05 L194.54,406.32 L194.74,406.61 L194.92,406.93 L195.08,407.27 L195.22,407.63 L195.34,408.02 L195.44,408.42 L195.52,408.84 L195.58,409.28 L195.61,409.74 L195.63,410.21 L195.63,410.69 L195.6,411.19 L195.56,411.7 L195.49,412.21 L195.4,412.74 L195.3,413.27 L195.17,413.81 L195.02,414.35 L194.86,414.89 L194.67,415.44 L194.47,415.98 L194.25,416.52 L194.01,417.06 L193.76,417.59 L193.49,418.12 L193.2,418.64 L192.9,419.14 L192.59,419.64 L192.26,420.13 L191.93,420.6 L191.58,421.06 L191.22,421.5 L190.86,421.92 L190.48,422.33 L190.1,422.72 L189.71,423.08 L189.32,423.43 L188.93,423.75 L188.53,424.04 L188.13,424.32 L187.73,424.57 L187.33,424.79 L186.93,424.99 L186.54,425.16 L186.15,425.3 L185.76,425.41 L185.39,425.5 L185.01,425.56 L184.65,425.59 L184.3,425.59 L183.95,425.57 L183.62,425.51 L183.3,425.43 L182.99,425.32 L182.69,425.18 L162.69,414.48 L162.42,414.31 L162.15,414.12 L161.9,413.9 L161.67,413.65 L161.46,413.38 L161.26,413.09 L161.08,412.77 L160.92,412.43 L160.78,412.07 L160.66,411.68 L160.56,411.28 L160.48,410.86 L160.42,410.42 L160.39,409.96 Z" fill="url(#pg6)" stroke="#555" stroke-width="0.5"/>
<line x1="174.82" y1="401.2" x2="187.18" y2="407.77" stroke="#555" stroke-width="1.1"/>
<line x1="172.47" y1="405.62" x2="184.83" y2="412.19" stroke="#555" stroke-width="1.1"/>
<line x1="170.12" y1="410.03" x2="182.48" y2="416.6" stroke="#555" stroke-width="1.1"/>
<path d="M152.33,402.71 L152.33,402.35 L152.35,401.98 L152.38,401.6 L152.43,401.22 L152.5,400.83 L152.58,400.43 L152.67,400.04 L152.78,399.63 L152.9,399.23 L153.04,398.82 L153.19,398.42 L153.35,398.02 L153.53,397.62 L153.72,397.22 L153.92,396.83 L154.13,396.45 L154.36,396.07 L154.59,395.7 L154.83,395.34 L155.08,394.99 L155.34,394.65 L155.6,394.32 L155.88,394 L156.16,393.7 L156.44,393.41 L156.73,393.14 L157.02,392.89 L157.31,392.65 L157.61,392.43 L157.9,392.22 L158.2,392.04 L158.5,391.87 L158.79,391.72 L159.09,391.6 L159.38,391.49 L159.66,391.41 L159.94,391.34 L160.22,391.3 L160.49,391.28 L160.75,391.27 L161.01,391.29 L161.26,391.34 L161.5,391.4 L161.72,391.48 L161.94,391.58 L173.94,398.08 L174.15,398.21 L174.35,398.35 L174.53,398.51 L174.71,398.7 L174.86,398.9 L175.01,399.12 L175.14,399.35 L175.26,399.61 L175.37,399.88 L175.45,400.16 L175.53,400.46 L175.59,400.77 L175.63,401.1 L175.66,401.44 L175.67,401.79 L175.67,402.15 L175.65,402.52 L175.62,402.9 L175.57,403.28 L175.5,403.67 L175.42,404.07 L175.33,404.46 L175.22,404.87 L175.1,405.27 L174.96,405.68 L174.81,406.08 L174.65,406.48 L174.47,406.88 L174.28,407.28 L174.08,407.67 L173.87,408.05 L173.64,408.43 L173.41,408.8 L173.17,409.16 L172.92,409.51 L172.66,409.85 L172.4,410.18 L172.12,410.5 L171.84,410.8 L171.56,411.09 L171.27,411.36 L170.98,411.61 L170.69,411.85 L170.39,412.07 L170.1,412.28 L169.8,412.46 L169.5,412.63 L169.21,412.78 L168.91,412.9 L168.62,413.01 L168.34,413.09 L168.06,413.16 L167.78,413.2 L167.51,413.22 L167.25,413.23 L166.99,413.21 L166.74,413.16 L166.5,413.1 L166.28,413.02 L166.06,412.92 L154.06,406.42 L153.85,406.29 L153.65,406.15 L153.47,405.99 L153.29,405.8 L153.14,405.6 L152.99,405.38 L152.86,405.15 L152.74,404.89 L152.63,404.62 L152.55,404.34 L152.47,404.04 L152.41,403.73 L152.37,403.4 L152.34,403.06 Z" fill="url(#pg7)" stroke="#555" stroke-width="0.5"/>
<ellipse cx="158" cy="399" rx="4.6" ry="8.4" transform="rotate(28 158 399)" fill="#c0c0c0" stroke="#555" stroke-width="0.6"/>
<path d="M187.5,454.5 L187.6,451.53 L187.82,448.53 L188.14,445.51 L188.58,442.47 L189.13,439.42 L189.79,436.38 L190.56,433.34 L191.43,430.32 L192.4,427.33 L193.48,424.38 L194.65,421.46 L195.91,418.6 L197.27,415.79 L198.71,413.05 L200.24,410.39 L201.84,407.8 L203.52,405.31 L205.26,402.9 L207.08,400.6 L208.95,398.41 L210.87,396.33 L212.85,394.37 L214.87,392.54 L216.93,390.83 L219.02,389.26 L221.14,387.83 L223.28,386.54 L225.43,385.4 L227.6,384.4 L229.76,383.56 L231.93,382.88 L234.09,382.35 L236.23,381.97 L238.35,381.76 L240.45,381.7 L242.52,381.81 L259.02,382.81 L261.04,383.07 L263.03,383.49 L264.97,384.07 L266.85,384.81 L268.67,385.7 L270.44,386.74 L272.13,387.93 L273.75,389.26 L275.29,390.74 L276.75,392.35 L278.12,394.1 L279.4,395.97 L280.59,397.97 L281.69,400.09 L282.68,402.31 L283.57,404.65 L284.36,407.08 L285.04,409.6 L285.62,412.22 L286.08,414.9 L286.43,417.67 L286.67,420.49 L286.79,423.37 L286.8,426.3 L286.7,429.27 L286.48,432.27 L286.16,435.29 L285.72,438.33 L285.17,441.38 L284.51,444.42 L283.74,447.46 L282.87,450.48 L281.9,453.47 L280.82,456.42 L279.65,459.34 L278.39,462.2 L277.03,465.01 L275.59,467.75 L274.06,470.41 L272.46,473 L270.78,475.49 L269.04,477.9 L267.22,480.2 L265.35,482.39 L263.43,484.47 L261.45,486.43 L259.43,488.26 L257.37,489.97 L255.28,491.54 L253.16,492.97 L251.02,494.26 L248.87,495.4 L246.7,496.4 L244.54,497.24 L242.37,497.92 L240.21,498.45 L238.07,498.83 L235.95,499.04 L233.85,499.1 L231.78,498.99 L215.28,497.99 L213.26,497.73 L211.27,497.31 L209.33,496.73 L207.45,495.99 L205.63,495.1 L203.86,494.06 L202.17,492.87 L200.55,491.54 L199.01,490.06 L197.55,488.45 L196.18,486.7 L194.9,484.83 L193.71,482.83 L192.61,480.71 L191.62,478.49 L190.73,476.15 L189.94,473.72 L189.26,471.2 L188.68,468.58 L188.22,465.9 L187.87,463.13 L187.63,460.31 L187.51,457.43 Z" fill="url(#rim3)"/>
<ellipse cx="237.4" cy="440.4" rx="38.6" ry="60.1" transform="rotate(19 237.4 440.4)" fill="none" stroke="#e2e2e2" stroke-width="0.9"/>
<ellipse cx="245.4" cy="440.9" rx="38.6" ry="60.1" transform="rotate(19 245.4 440.9)" fill="#8c8c8c" stroke="url(#fe3)" stroke-width="1.0"/>
<path d="M225,402 Q234,393 243,391 L245,396 Q236,399 229,408 Z" fill="#c0c0c0"/>
<ellipse cx="250" cy="424" rx="16.5" ry="22" transform="rotate(21 250 424)" fill="#c4c4c4"/>
<ellipse cx="244.5" cy="420" rx="12.5" ry="17" transform="rotate(21 244.5 420)" fill="#8c8c8c"/>
<ellipse cx="242" cy="418.7" rx="9" ry="13" transform="rotate(21 242 418.7)" fill="url(#bore3)" stroke="#6a6a6a" stroke-width="0.5"/>
<path d="M204.5,459 C220,478 265,474 284,441" fill="none" stroke="#d8d8d8" stroke-width="0.9"/>
<ellipse cx="218.7" cy="457.3" rx="4.2" ry="5.5" transform="rotate(21 218.7 457.3)" fill="#b8b8b8" stroke="#555" stroke-width="0.6"/>
<ellipse cx="273.9" cy="425.7" rx="4.2" ry="5.5" transform="rotate(21 273.9 425.7)" fill="#b8b8b8" stroke="#555" stroke-width="0.6"/>
<polyline points="237,417 298,450" fill="none" stroke="#fff" stroke-width="3.45"/>
<polyline points="237,417 298,450" fill="none" stroke="#262626" stroke-width="1.25"/>
<polyline points="202,498 182,512" fill="none" stroke="#262626" stroke-width="1.25"/>
<text transform="translate(176.5,523.8) scale(1.22,1)" font-size="14" font-weight="normal" fill="#1a1a1a" stroke="#1a1a1a" stroke-width="0.45">3</text>
<path d="M333.37,537.78 L333.42,535.02 L333.59,532.22 L333.87,529.41 L334.26,526.59 L334.76,523.76 L335.37,520.94 L336.08,518.13 L336.9,515.34 L337.82,512.58 L338.84,509.86 L339.96,507.17 L341.17,504.54 L342.48,501.97 L343.87,499.46 L345.34,497.02 L346.89,494.66 L348.52,492.38 L350.22,490.2 L351.99,488.11 L353.81,486.12 L355.7,484.24 L357.63,482.48 L359.61,480.83 L361.63,479.31 L363.68,477.91 L365.77,476.64 L367.87,475.51 L370,474.51 L372.13,473.65 L374.28,472.94 L376.42,472.37 L378.55,471.94 L380.68,471.66 L382.79,471.53 L384.87,471.55 L386.92,471.71 L406.42,473.71 L408.44,474.03 L410.42,474.48 L412.36,475.09 L414.24,475.84 L416.07,476.73 L417.84,477.76 L419.54,478.92 L421.17,480.22 L422.72,481.65 L424.2,483.2 L425.59,484.87 L426.9,486.67 L428.11,488.57 L429.23,490.58 L430.26,492.69 L431.18,494.9 L432,497.2 L432.72,499.57 L433.33,502.03 L433.83,504.56 L434.22,507.14 L434.5,509.79 L434.67,512.48 L434.73,515.22 L434.68,517.98 L434.51,520.78 L434.23,523.59 L433.84,526.41 L433.34,529.24 L432.73,532.06 L432.02,534.87 L431.2,537.66 L430.28,540.42 L429.26,543.14 L428.14,545.83 L426.93,548.46 L425.62,551.03 L424.23,553.54 L422.76,555.98 L421.21,558.34 L419.58,560.62 L417.88,562.8 L416.11,564.89 L414.29,566.88 L412.4,568.76 L410.47,570.52 L408.49,572.17 L406.47,573.69 L404.42,575.09 L402.33,576.36 L400.23,577.49 L398.1,578.49 L395.97,579.35 L393.82,580.06 L391.68,580.63 L389.55,581.06 L387.42,581.34 L385.31,581.47 L383.23,581.45 L381.18,581.29 L361.68,579.29 L359.66,578.97 L357.68,578.52 L355.74,577.91 L353.86,577.16 L352.03,576.27 L350.26,575.24 L348.56,574.08 L346.93,572.78 L345.38,571.35 L343.9,569.8 L342.51,568.13 L341.2,566.33 L339.99,564.43 L338.87,562.42 L337.84,560.31 L336.92,558.1 L336.1,555.8 L335.38,553.43 L334.77,550.97 L334.27,548.44 L333.88,545.86 L333.6,543.21 L333.43,540.52 Z" fill="url(#rim2)"/>
<ellipse cx="383.8" cy="526.5" rx="38.7" ry="55.6" transform="rotate(19.5 383.8 526.5)" fill="none" stroke="#e2e2e2" stroke-width="0.9"/>
<ellipse cx="393.8" cy="527.5" rx="38.7" ry="55.6" transform="rotate(19.5 393.8 527.5)" fill="#8e8e8e" stroke="url(#fe2)" stroke-width="1.0"/>
<ellipse cx="395.5" cy="528.5" rx="33" ry="49" transform="rotate(19.5 395.5 528.5)" fill="none" stroke="#c4c4c4" stroke-width="2.4"/>
<ellipse cx="397" cy="529" rx="30" ry="45" transform="rotate(19.5 397 529)" fill="#8a8a8a" stroke="#5a5a5a" stroke-width="0.7"/>
<path d="M387.5,477 Q389,469 397,467.5 Q407,468 412,474 L407,478 Q399,474 392,479 Z" fill="#5e5e5e"/>
<ellipse cx="393" cy="504" rx="9.5" ry="11" transform="rotate(19.5 393 504)" fill="url(#boss2)"/>
<ellipse cx="369" cy="539.4" rx="3.5" ry="5" transform="rotate(19.5 369 539.4)" fill="#b8b8b8" stroke="#555" stroke-width="0.6"/>
<ellipse cx="420.2" cy="510.8" rx="3.5" ry="5" transform="rotate(19.5 420.2 510.8)" fill="#b8b8b8" stroke="#555" stroke-width="0.6"/>
<path d="M383.87,539.64 L383.89,539.08 L383.93,538.5 L383.99,537.91 L384.08,537.31 L384.18,536.69 L384.3,536.07 L384.45,535.43 L384.62,534.79 L384.8,534.14 L385.01,533.49 L385.23,532.83 L385.47,532.18 L385.73,531.53 L386,530.88 L386.29,530.23 L386.6,529.6 L386.92,528.97 L387.25,528.35 L387.6,527.74 L387.96,527.15 L388.33,526.58 L388.7,526.02 L389.09,525.48 L389.48,524.96 L389.88,524.46 L390.29,523.98 L390.7,523.53 L391.11,523.1 L391.53,522.71 L391.94,522.33 L392.36,521.99 L392.77,521.68 L393.18,521.39 L393.59,521.14 L393.99,520.92 L394.38,520.73 L394.77,520.58 L395.15,520.46 L395.52,520.37 L395.89,520.32 L396.24,520.3 L396.57,520.31 L396.9,520.36 L397.21,520.45 L397.51,520.56 L427.41,534.46 L427.69,534.62 L427.95,534.8 L428.2,535.02 L428.43,535.27 L428.64,535.55 L428.83,535.86 L429,536.2 L429.15,536.57 L429.28,536.96 L429.39,537.39 L429.48,537.84 L429.55,538.31 L429.6,538.81 L429.62,539.33 L429.63,539.86 L429.61,540.42 L429.57,541 L429.51,541.59 L429.42,542.19 L429.32,542.81 L429.2,543.43 L429.05,544.07 L428.88,544.71 L428.7,545.36 L428.49,546.01 L428.27,546.67 L428.03,547.32 L427.77,547.97 L427.5,548.62 L427.21,549.27 L426.9,549.9 L426.58,550.53 L426.25,551.15 L425.9,551.76 L425.54,552.35 L425.17,552.92 L424.8,553.48 L424.41,554.02 L424.02,554.54 L423.62,555.04 L423.21,555.52 L422.8,555.97 L422.39,556.4 L421.97,556.79 L421.56,557.17 L421.14,557.51 L420.73,557.82 L420.32,558.11 L419.91,558.36 L419.51,558.58 L419.12,558.77 L418.73,558.92 L418.35,559.04 L417.98,559.13 L417.61,559.18 L417.26,559.2 L416.93,559.19 L416.6,559.14 L416.29,559.05 L415.99,558.94 L386.09,545.04 L385.81,544.88 L385.55,544.7 L385.3,544.48 L385.07,544.23 L384.86,543.95 L384.67,543.64 L384.5,543.3 L384.35,542.93 L384.22,542.54 L384.11,542.11 L384.02,541.66 L383.95,541.19 L383.9,540.69 L383.88,540.17 Z" fill="url(#pg8)"/>
<path d="M414.07,553.28 L414.08,552.75 L414.12,552.19 L414.18,551.63 L414.26,551.04 L414.36,550.45 L414.48,549.85 L414.62,549.23 L414.78,548.61 L414.96,547.99 L415.16,547.36 L415.37,546.73 L415.6,546.1 L415.85,545.47 L416.12,544.85 L416.4,544.23 L416.69,543.61 L417,543.01 L417.32,542.42 L417.66,541.83 L418,541.26 L418.36,540.71 L418.72,540.17 L419.09,539.65 L419.47,539.15 L419.86,538.67 L420.25,538.21 L420.64,537.77 L421.04,537.36 L421.44,536.98 L421.84,536.62 L422.24,536.29 L422.63,535.99 L423.03,535.71 L423.42,535.47 L423.81,535.26 L424.19,535.08 L424.56,534.93 L424.93,534.81 L425.29,534.73 L425.63,534.68 L425.97,534.66 L426.3,534.68 L426.61,534.72 L426.91,534.8 L427.19,534.92 L427.46,535.06 L465.61,559 L465.8,559.13 L465.97,559.28 L466.13,559.45 L466.28,559.65 L466.42,559.87 L466.54,560.11 L466.64,560.37 L466.74,560.65 L466.81,560.95 L466.88,561.26 L466.93,561.6 L466.96,561.95 L466.98,562.31 L466.98,562.69 L466.97,563.08 L466.94,563.49 L466.89,563.9 L466.84,564.33 L466.76,564.76 L466.67,565.2 L466.57,565.65 L466.46,566.1 L466.33,566.56 L466.18,567.02 L466.02,567.48 L465.85,567.94 L465.67,568.4 L465.48,568.85 L465.27,569.31 L465.06,569.75 L464.83,570.2 L464.6,570.63 L464.36,571.06 L464.1,571.47 L463.84,571.88 L463.58,572.27 L463.31,572.65 L463.03,573.02 L462.75,573.37 L462.46,573.7 L462.17,574.02 L461.88,574.32 L461.59,574.6 L461.3,574.87 L461.01,575.11 L460.72,575.33 L460.43,575.53 L460.14,575.7 L459.86,575.86 L459.58,575.99 L459.31,576.1 L459.04,576.19 L458.78,576.25 L458.52,576.28 L458.28,576.3 L458.04,576.29 L457.81,576.25 L457.59,576.19 L457.39,576.11 L416.21,558.48 L415.94,558.34 L415.68,558.16 L415.44,557.95 L415.22,557.71 L415.02,557.44 L414.84,557.14 L414.67,556.81 L414.52,556.46 L414.4,556.08 L414.29,555.67 L414.2,555.23 L414.14,554.78 L414.09,554.3 L414.07,553.8 Z" fill="url(#pg9)"/>
<path d="M456.7,571.55 L456.71,571.22 L456.74,570.88 L456.77,570.53 L456.82,570.17 L456.88,569.81 L456.96,569.44 L457.04,569.06 L457.14,568.68 L457.25,568.29 L457.37,567.91 L457.51,567.52 L457.65,567.13 L457.8,566.74 L457.96,566.36 L458.14,565.98 L458.32,565.6 L458.51,565.23 L458.71,564.86 L458.91,564.5 L459.12,564.15 L459.34,563.81 L459.57,563.48 L459.79,563.16 L460.03,562.85 L460.26,562.56 L460.51,562.28 L460.75,562.01 L460.99,561.75 L461.24,561.52 L461.48,561.3 L461.73,561.09 L461.97,560.91 L462.22,560.74 L462.46,560.59 L462.7,560.46 L462.93,560.35 L463.16,560.26 L463.39,560.19 L463.61,560.13 L463.82,560.1 L464.03,560.09 L464.23,560.1 L464.42,560.13 L464.61,560.18 L464.78,560.25 L464.95,560.34 L483.58,572.98 L483.71,573.07 L483.83,573.17 L483.94,573.29 L484.04,573.43 L484.13,573.58 L484.21,573.74 L484.29,573.92 L484.35,574.11 L484.4,574.32 L484.45,574.53 L484.48,574.76 L484.5,575 L484.52,575.25 L484.52,575.51 L484.51,575.78 L484.49,576.05 L484.46,576.34 L484.42,576.63 L484.37,576.93 L484.31,577.23 L484.24,577.53 L484.16,577.84 L484.07,578.16 L483.97,578.47 L483.86,578.78 L483.75,579.1 L483.62,579.41 L483.49,579.73 L483.35,580.04 L483.2,580.34 L483.05,580.65 L482.89,580.94 L482.72,581.23 L482.55,581.52 L482.37,581.8 L482.19,582.07 L482,582.33 L481.81,582.58 L481.62,582.82 L481.43,583.05 L481.23,583.26 L481.03,583.47 L480.83,583.66 L480.63,583.84 L480.43,584.01 L480.23,584.16 L480.04,584.29 L479.84,584.41 L479.65,584.52 L479.46,584.61 L479.27,584.68 L479.09,584.74 L478.91,584.78 L478.73,584.81 L478.56,584.82 L478.4,584.81 L478.25,584.79 L478.1,584.75 L477.95,584.69 L458.02,574.75 L457.85,574.66 L457.7,574.55 L457.55,574.42 L457.41,574.28 L457.29,574.11 L457.18,573.93 L457.07,573.72 L456.98,573.5 L456.91,573.27 L456.84,573.02 L456.79,572.75 L456.75,572.47 L456.72,572.18 L456.7,571.87 Z" fill="url(#pg10)"/>
<ellipse cx="480.7" cy="578.8" rx="2.93" ry="6.5" transform="rotate(25 480.7 578.8)" fill="#d0d0d0"/>
<ellipse cx="444" cy="559.5" rx="1" ry="0.75" transform="rotate(25 444 559.5)" fill="#4a4a4a"/>
<ellipse cx="443.9" cy="562.9" rx="1" ry="0.75" transform="rotate(25 443.9 562.9)" fill="#4a4a4a"/>
<ellipse cx="441.4" cy="566.3" rx="1" ry="0.75" transform="rotate(25 441.4 566.3)" fill="#4a4a4a"/>
<ellipse cx="447.6" cy="561.25" rx="1" ry="0.75" transform="rotate(25 447.6 561.25)" fill="#4a4a4a"/>
<ellipse cx="447.5" cy="564.65" rx="1" ry="0.75" transform="rotate(25 447.5 564.65)" fill="#4a4a4a"/>
<ellipse cx="445" cy="568.05" rx="1" ry="0.75" transform="rotate(25 445 568.05)" fill="#4a4a4a"/>
<ellipse cx="451.2" cy="563" rx="1" ry="0.75" transform="rotate(25 451.2 563)" fill="#4a4a4a"/>
<ellipse cx="451.1" cy="566.4" rx="1" ry="0.75" transform="rotate(25 451.1 566.4)" fill="#4a4a4a"/>
<ellipse cx="448.6" cy="569.8" rx="1" ry="0.75" transform="rotate(25 448.6 569.8)" fill="#4a4a4a"/>
<ellipse cx="454.8" cy="564.75" rx="1" ry="0.75" transform="rotate(25 454.8 564.75)" fill="#4a4a4a"/>
<ellipse cx="454.7" cy="568.15" rx="1" ry="0.75" transform="rotate(25 454.7 568.15)" fill="#4a4a4a"/>
<ellipse cx="452.2" cy="571.55" rx="1" ry="0.75" transform="rotate(25 452.2 571.55)" fill="#4a4a4a"/>
<ellipse cx="458.4" cy="566.5" rx="1" ry="0.75" transform="rotate(25 458.4 566.5)" fill="#4a4a4a"/>
<ellipse cx="458.3" cy="569.9" rx="1" ry="0.75" transform="rotate(25 458.3 569.9)" fill="#4a4a4a"/>
<ellipse cx="455.8" cy="573.3" rx="1" ry="0.75" transform="rotate(25 455.8 573.3)" fill="#4a4a4a"/>
<ellipse cx="462" cy="568.25" rx="1" ry="0.75" transform="rotate(25 462 568.25)" fill="#4a4a4a"/>
<ellipse cx="461.9" cy="571.65" rx="1" ry="0.75" transform="rotate(25 461.9 571.65)" fill="#4a4a4a"/>
<ellipse cx="459.4" cy="575.05" rx="1" ry="0.75" transform="rotate(25 459.4 575.05)" fill="#4a4a4a"/>
<polyline points="483,580.7 518,600.6" fill="none" stroke="#262626" stroke-width="1.25"/>
<polyline points="338.5,566.5 325.7,585" fill="none" stroke="#262626" stroke-width="1.25"/>
<text transform="translate(315.5,598.5) scale(1.22,1)" font-size="14" font-weight="normal" fill="#1a1a1a" stroke="#1a1a1a" stroke-width="0.45">2</text>
<line x1="463" y1="581.2" x2="454.37" y2="595.59" stroke="#262626" stroke-width="1.25" stroke-linecap="butt"/>
<line x1="453.24" y1="597.48" x2="452.62" y2="598.51" stroke="#262626" stroke-width="1.25" stroke-linecap="butt"/>
<line x1="451.49" y1="600.4" x2="436.5" y2="625.4" stroke="#262626" stroke-width="1.25" stroke-linecap="butt"/>
<polyline points="436.5,625.4 450.6,632.4" fill="none" stroke="#262626" stroke-width="1.25"/>
<path d="M450,630 L463,634 L462,640 L450,636 Z" fill="#d4d4d4" stroke="#999" stroke-width="0.5"/>
<polyline points="459.5,639.5 433,669.5" fill="none" stroke="#262626" stroke-width="1.25"/>
<path d="M0.372,0 L0.284,0 L0.284,-0.560 Q0.252,-0.530 0.200,-0.500 Q0.148,-0.469 0.107,-0.454 L0.107,-0.539 Q0.180,-0.573 0.235,-0.622 Q0.290,-0.670 0.313,-0.716 L0.372,-0.716 Z" transform="translate(420,682) scale(17.08,14)" fill="#1a1a1a" stroke="#1a1a1a" stroke-width="0.03"/>
<text transform="translate(429.5,682) scale(1.22,1)" font-size="14" font-weight="normal" fill="#1a1a1a" stroke="#1a1a1a" stroke-width="0.45">3</text>
<path d="M513.84,623.82 L513.9,622.05 L514.04,620.25 L514.25,618.44 L514.54,616.63 L514.89,614.81 L515.32,612.99 L515.82,611.18 L516.38,609.38 L517.02,607.59 L517.71,605.83 L518.47,604.1 L519.29,602.39 L520.17,600.72 L521.11,599.09 L522.1,597.51 L523.14,595.97 L524.22,594.49 L525.36,593.07 L526.53,591.7 L527.75,590.4 L529,589.17 L530.28,588.01 L531.59,586.93 L532.93,585.93 L534.28,585 L535.66,584.16 L537.04,583.41 L538.44,582.74 L539.85,582.16 L541.25,581.67 L542.66,581.28 L544.06,580.98 L545.45,580.77 L546.83,580.66 L548.19,580.64 L549.53,580.72 L550.84,580.89 L552.13,581.16 L553.39,581.52 L554.61,581.98 L555.8,582.53 L567.8,588.53 L568.94,589.16 L570.04,589.89 L571.09,590.7 L572.09,591.6 L573.03,592.57 L573.93,593.63 L574.76,594.76 L575.53,595.97 L576.24,597.24 L576.89,598.58 L577.47,599.99 L577.98,601.45 L578.42,602.97 L578.79,604.53 L579.09,606.15 L579.32,607.8 L579.47,609.5 L579.56,611.22 L579.56,612.98 L579.5,614.75 L579.36,616.55 L579.15,618.36 L578.86,620.17 L578.51,621.99 L578.08,623.81 L577.58,625.62 L577.02,627.42 L576.38,629.21 L575.69,630.97 L574.93,632.7 L574.11,634.41 L573.23,636.08 L572.29,637.71 L571.3,639.29 L570.26,640.83 L569.18,642.31 L568.04,643.73 L566.87,645.1 L565.65,646.4 L564.4,647.63 L563.12,648.79 L561.81,649.87 L560.47,650.87 L559.12,651.8 L557.74,652.64 L556.36,653.39 L554.96,654.06 L553.55,654.64 L552.15,655.13 L550.74,655.52 L549.34,655.82 L547.95,656.03 L546.57,656.14 L545.21,656.16 L543.87,656.08 L542.56,655.91 L541.27,655.64 L540.01,655.28 L538.79,654.82 L537.6,654.27 L525.6,648.27 L524.46,647.64 L523.36,646.91 L522.31,646.1 L521.31,645.2 L520.37,644.23 L519.47,643.17 L518.64,642.04 L517.87,640.83 L517.16,639.56 L516.51,638.22 L515.93,636.81 L515.42,635.35 L514.98,633.83 L514.61,632.27 L514.31,630.65 L514.08,629 L513.93,627.3 L513.84,625.58 Z" fill="url(#rim14)" stroke="#555" stroke-width="0.7"/>
<ellipse cx="552.7" cy="621.4" rx="24.9" ry="36.2" transform="rotate(22.6 552.7 621.4)" fill="#b4b4b4" stroke="#555" stroke-width="0.7"/>
<ellipse cx="552.5" cy="621.5" rx="19.5" ry="28.5" transform="rotate(22.6 552.5 621.5)" fill="#8e8e8e" stroke="#555" stroke-width="0.6"/>
<ellipse cx="563.25" cy="599.54" rx="3.06" ry="3.96" transform="rotate(22.6 563.25 599.54)" fill="#d6d6d6" stroke="#7a7a7a" stroke-width="0.4"/>
<ellipse cx="569.8" cy="608.37" rx="3.06" ry="3.96" transform="rotate(22.6 569.8 608.37)" fill="#d6d6d6" stroke="#7a7a7a" stroke-width="0.4"/>
<ellipse cx="570.1" cy="621.96" rx="3.06" ry="3.96" transform="rotate(22.6 570.1 621.96)" fill="#d6d6d6" stroke="#7a7a7a" stroke-width="0.4"/>
<ellipse cx="541.75" cy="643.46" rx="3.06" ry="3.96" transform="rotate(22.6 541.75 643.46)" fill="#d6d6d6" stroke="#7a7a7a" stroke-width="0.4"/>
<ellipse cx="535.2" cy="634.63" rx="3.06" ry="3.96" transform="rotate(22.6 535.2 634.63)" fill="#d6d6d6" stroke="#7a7a7a" stroke-width="0.4"/>
<ellipse cx="534.9" cy="621.04" rx="3.06" ry="3.96" transform="rotate(22.6 534.9 621.04)" fill="#d6d6d6" stroke="#7a7a7a" stroke-width="0.4"/>
<ellipse cx="552" cy="621.8" rx="15.1" ry="19.9" transform="rotate(30.8 552 621.8)" fill="#c8c8c8" stroke="#555" stroke-width="0.7"/>
<ellipse cx="552.4" cy="623.7" rx="11.1" ry="14.6" transform="rotate(28 552.4 623.7)" fill="#a8a8a8" stroke="#555" stroke-width="0.7"/>
<polyline points="526.6,648.3 510.7,669.5" fill="none" stroke="#262626" stroke-width="1.25"/>
<path d="M0.372,0 L0.284,0 L0.284,-0.560 Q0.252,-0.530 0.200,-0.500 Q0.148,-0.469 0.107,-0.454 L0.107,-0.539 Q0.180,-0.573 0.235,-0.622 Q0.290,-0.670 0.313,-0.716 L0.372,-0.716 Z" transform="translate(498,682) scale(17.08,14)" fill="#1a1a1a" stroke="#1a1a1a" stroke-width="0.03"/>
<text transform="translate(507.5,682) scale(1.22,1)" font-size="14" font-weight="normal" fill="#1a1a1a" stroke="#1a1a1a" stroke-width="0.45">4</text>
<path d="M573.4,652.38 L573.46,651.07 L573.58,649.74 L573.75,648.4 L573.98,647.04 L574.27,645.68 L574.62,644.32 L575.02,642.96 L575.48,641.6 L575.99,640.25 L576.56,638.91 L577.17,637.59 L577.84,636.28 L578.55,635 L579.3,633.74 L580.1,632.52 L580.94,631.32 L581.82,630.17 L582.73,629.05 L583.68,627.97 L584.66,626.94 L585.66,625.96 L586.69,625.03 L587.75,624.15 L588.83,623.33 L589.92,622.56 L591.02,621.86 L592.14,621.21 L593.26,620.64 L594.39,620.12 L595.52,619.68 L596.65,619.3 L597.78,618.99 L598.9,618.75 L600,618.58 L601.1,618.48 L602.17,618.46 L603.23,618.5 L604.26,618.62 L605.27,618.81 L606.25,619.06 L607.2,619.39 L612.2,621.39 L613.12,621.79 L614,622.25 L614.84,622.78 L615.64,623.38 L616.4,624.04 L617.12,624.76 L617.78,625.54 L618.4,626.37 L618.97,627.27 L619.48,628.21 L619.94,629.21 L620.35,630.25 L620.7,631.34 L621,632.47 L621.24,633.63 L621.41,634.84 L621.53,636.07 L621.6,637.33 L621.6,638.62 L621.54,639.93 L621.42,641.26 L621.25,642.6 L621.02,643.96 L620.73,645.32 L620.38,646.68 L619.98,648.04 L619.52,649.4 L619.01,650.75 L618.44,652.09 L617.83,653.41 L617.16,654.72 L616.45,656 L615.7,657.26 L614.9,658.48 L614.06,659.68 L613.18,660.83 L612.27,661.95 L611.32,663.03 L610.34,664.06 L609.34,665.04 L608.31,665.97 L607.25,666.85 L606.17,667.67 L605.08,668.44 L603.98,669.14 L602.86,669.79 L601.74,670.36 L600.61,670.88 L599.48,671.32 L598.35,671.7 L597.22,672.01 L596.1,672.25 L595,672.42 L593.9,672.52 L592.83,672.54 L591.77,672.5 L590.74,672.38 L589.73,672.19 L588.75,671.94 L587.8,671.61 L582.8,669.61 L581.88,669.21 L581,668.75 L580.16,668.22 L579.36,667.62 L578.6,666.96 L577.88,666.24 L577.22,665.46 L576.6,664.63 L576.03,663.73 L575.52,662.79 L575.06,661.79 L574.65,660.75 L574.3,659.66 L574,658.53 L573.76,657.37 L573.59,656.16 L573.47,654.93 L573.4,653.67 Z" fill="#a0a0a0" stroke="#555" stroke-width="0.7"/>
<ellipse cx="600" cy="646.5" rx="19" ry="28" transform="rotate(30 600 646.5)" fill="#b4b4b4" stroke="#555" stroke-width="0.7"/>
<ellipse cx="601.5" cy="649" rx="14.2" ry="19.5" transform="rotate(25 601.5 649)" fill="#bcbcbc" stroke="#555" stroke-width="0.7"/>
<ellipse cx="601.9" cy="650" rx="11.1" ry="15.6" transform="rotate(23.3 601.9 650)" fill="#fff" stroke="#555" stroke-width="0.7"/>
<path d="M610,638 Q615,650 608,662" fill="none" stroke="#777" stroke-width="1.6" stroke-dasharray="1.5 1.2"/>
<polyline points="586.7,674.8 572.5,701.3" fill="none" stroke="#262626" stroke-width="1.25"/>
<path d="M0.372,0 L0.284,0 L0.284,-0.560 Q0.252,-0.530 0.200,-0.500 Q0.148,-0.469 0.107,-0.454 L0.107,-0.539 Q0.180,-0.573 0.235,-0.622 Q0.290,-0.670 0.313,-0.716 L0.372,-0.716 Z" transform="translate(558,716) scale(17.08,14)" fill="#1a1a1a" stroke="#1a1a1a" stroke-width="0.03"/>
<text transform="translate(567.5,716) scale(1.22,1)" font-size="14" font-weight="normal" fill="#1a1a1a" stroke="#1a1a1a" stroke-width="0.45">6</text>
<path d="M32.7,761.5 L47,736.4 L51.7,742.6 L78.3,728.2 L80.9,730.3 L80.9,747.7 L50.6,763 L50.1,772.3 Z" fill="#c4c4c4" stroke="#666" stroke-width="0.6"/>
<path d="M51.7,742.6 L78.3,728.2 L80.9,730.3 L52.5,745.5 Z" fill="#555"/>
<path d="M32.7,761.5 L47,736.4 L49.5,739 L36,762.5 Z" fill="#8a8a8a"/>
<text transform="translate(52.8,763) rotate(-24) skewX(-16) scale(1,1.12)" font-size="13" fill="#2e2e2e" stroke="#2e2e2e" stroke-width="0.25" textLength="26.5" lengthAdjust="spacingAndGlyphs">FWD</text>
<text x="11" y="789.5" font-size="14" letter-spacing="1.0" fill="#1a1a1a" stroke="#1a1a1a" stroke-width="0.2">BR8</text>
<path d="M0.372,0 L0.284,0 L0.284,-0.560 Q0.252,-0.530 0.200,-0.500 Q0.148,-0.469 0.107,-0.454 L0.107,-0.539 Q0.180,-0.573 0.235,-0.622 Q0.290,-0.670 0.313,-0.716 L0.372,-0.716 Z" transform="translate(41.23,789.5) scale(14,14)" fill="#1a1a1a" stroke="#1a1a1a" stroke-width="0.01"/>
<path d="M0.372,0 L0.284,0 L0.284,-0.560 Q0.252,-0.530 0.200,-0.500 Q0.148,-0.469 0.107,-0.454 L0.107,-0.539 Q0.180,-0.573 0.235,-0.622 Q0.290,-0.670 0.313,-0.716 L0.372,-0.716 Z" transform="translate(50.01,789.5) scale(14,14)" fill="#1a1a1a" stroke="#1a1a1a" stroke-width="0.01"/>
<path d="M0.372,0 L0.284,0 L0.284,-0.560 Q0.252,-0.530 0.200,-0.500 Q0.148,-0.469 0.107,-0.454 L0.107,-0.539 Q0.180,-0.573 0.235,-0.622 Q0.290,-0.670 0.313,-0.716 L0.372,-0.716 Z" transform="translate(58.8,789.5) scale(14,14)" fill="#1a1a1a" stroke="#1a1a1a" stroke-width="0.01"/>
<text x="67.58" y="789.5" font-size="14" letter-spacing="1.0" fill="#1a1a1a" stroke="#1a1a1a" stroke-width="0.2">0DT030</text>
</svg></body></html>
